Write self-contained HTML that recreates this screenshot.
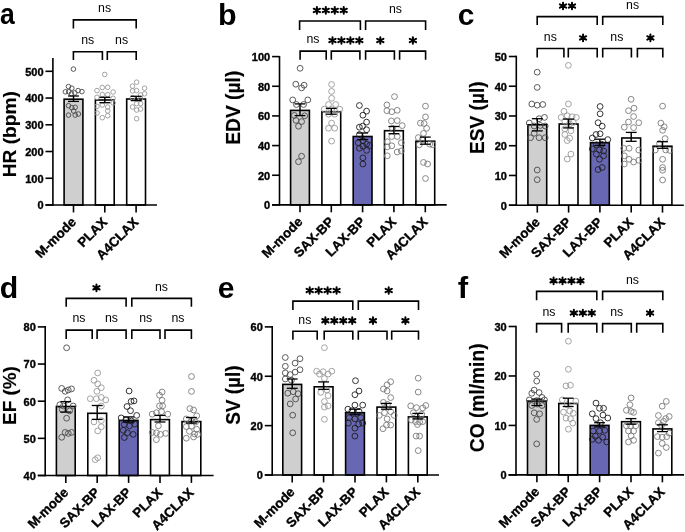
<!DOCTYPE html>
<html><head><meta charset="utf-8"><style>
html,body{margin:0;padding:0;background:#fff;}
svg{display:block;font-family:"Liberation Sans", sans-serif;will-change:transform;}
</style></head><body>
<svg width="685" height="532" viewBox="0 0 685 532">
<rect width="685" height="532" fill="#fff"/>
<text font-size="29.41" font-weight="bold" fill="#000" transform="translate(-0.05 24.41) scale(0.9036 1)">a</text>
<rect x="64.1" y="99.2" width="18.8" height="105.8" fill="#cfcfcf" stroke="#000" stroke-width="1.6"/>
<rect x="95.4" y="100" width="18.8" height="105" fill="#fff" stroke="#000" stroke-width="1.6"/>
<rect x="126.7" y="99" width="18.8" height="106" fill="#fff" stroke="#000" stroke-width="1.6"/>
<circle cx="73.4" cy="69.1" r="2.3" fill="none" stroke="#4a4a4a" stroke-width="0.9"/>
<circle cx="68.5" cy="86.6" r="2.3" fill="none" stroke="#4a4a4a" stroke-width="0.9"/>
<circle cx="71.8" cy="88.2" r="2.3" fill="none" stroke="#4a4a4a" stroke-width="0.9"/>
<circle cx="65.4" cy="91.8" r="2.3" fill="none" stroke="#4a4a4a" stroke-width="0.9"/>
<circle cx="68.7" cy="91.8" r="2.3" fill="none" stroke="#4a4a4a" stroke-width="0.9"/>
<circle cx="78.1" cy="90.6" r="2.3" fill="none" stroke="#4a4a4a" stroke-width="0.9"/>
<circle cx="81.9" cy="91.6" r="2.3" fill="none" stroke="#4a4a4a" stroke-width="0.9"/>
<circle cx="74.8" cy="92.9" r="2.3" fill="none" stroke="#4a4a4a" stroke-width="0.9"/>
<circle cx="71.4" cy="93.8" r="2.3" fill="none" stroke="#4a4a4a" stroke-width="0.9"/>
<circle cx="68.5" cy="105.7" r="2.3" fill="none" stroke="#4a4a4a" stroke-width="0.9"/>
<circle cx="71.8" cy="107.7" r="2.3" fill="none" stroke="#4a4a4a" stroke-width="0.9"/>
<circle cx="75.2" cy="107.3" r="2.3" fill="none" stroke="#4a4a4a" stroke-width="0.9"/>
<circle cx="73.6" cy="111" r="2.3" fill="none" stroke="#4a4a4a" stroke-width="0.9"/>
<circle cx="68.5" cy="115.1" r="2.3" fill="none" stroke="#4a4a4a" stroke-width="0.9"/>
<circle cx="75.2" cy="115.1" r="2.3" fill="none" stroke="#4a4a4a" stroke-width="0.9"/>
<circle cx="78.4" cy="114" r="2.3" fill="none" stroke="#4a4a4a" stroke-width="0.9"/>
<circle cx="104.7" cy="74.5" r="2.3" fill="none" stroke="#999" stroke-width="0.9"/>
<circle cx="102.3" cy="87.5" r="2.3" fill="none" stroke="#999" stroke-width="0.9"/>
<circle cx="107.7" cy="87.3" r="2.3" fill="none" stroke="#999" stroke-width="0.9"/>
<circle cx="97" cy="90.6" r="2.3" fill="none" stroke="#999" stroke-width="0.9"/>
<circle cx="113.1" cy="92" r="2.3" fill="none" stroke="#999" stroke-width="0.9"/>
<circle cx="102.3" cy="94.6" r="2.3" fill="none" stroke="#999" stroke-width="0.9"/>
<circle cx="107.7" cy="94.6" r="2.3" fill="none" stroke="#999" stroke-width="0.9"/>
<circle cx="97" cy="97.3" r="2.3" fill="none" stroke="#999" stroke-width="0.9"/>
<circle cx="113.1" cy="98.3" r="2.3" fill="none" stroke="#999" stroke-width="0.9"/>
<circle cx="102.3" cy="105" r="2.3" fill="none" stroke="#999" stroke-width="0.9"/>
<circle cx="107.7" cy="107" r="2.3" fill="none" stroke="#999" stroke-width="0.9"/>
<circle cx="97" cy="106.3" r="2.3" fill="none" stroke="#999" stroke-width="0.9"/>
<circle cx="113.1" cy="103" r="2.3" fill="none" stroke="#999" stroke-width="0.9"/>
<circle cx="107.7" cy="111" r="2.3" fill="none" stroke="#999" stroke-width="0.9"/>
<circle cx="97" cy="113" r="2.3" fill="none" stroke="#999" stroke-width="0.9"/>
<circle cx="107.7" cy="115.7" r="2.3" fill="none" stroke="#999" stroke-width="0.9"/>
<circle cx="102.3" cy="117.7" r="2.3" fill="none" stroke="#999" stroke-width="0.9"/>
<circle cx="136.6" cy="82.2" r="2.3" fill="none" stroke="#999" stroke-width="0.9"/>
<circle cx="132.5" cy="86.2" r="2.3" fill="none" stroke="#999" stroke-width="0.9"/>
<circle cx="144.6" cy="88.2" r="2.3" fill="none" stroke="#999" stroke-width="0.9"/>
<circle cx="132.5" cy="90.9" r="2.3" fill="none" stroke="#999" stroke-width="0.9"/>
<circle cx="136.6" cy="90.6" r="2.3" fill="none" stroke="#999" stroke-width="0.9"/>
<circle cx="144.6" cy="93.8" r="2.3" fill="none" stroke="#999" stroke-width="0.9"/>
<circle cx="140.6" cy="94.9" r="2.3" fill="none" stroke="#999" stroke-width="0.9"/>
<circle cx="132.5" cy="97.6" r="2.3" fill="none" stroke="#999" stroke-width="0.9"/>
<circle cx="140.6" cy="98.6" r="2.3" fill="none" stroke="#999" stroke-width="0.9"/>
<circle cx="136.6" cy="103.6" r="2.3" fill="none" stroke="#999" stroke-width="0.9"/>
<circle cx="140.6" cy="103.6" r="2.3" fill="none" stroke="#999" stroke-width="0.9"/>
<circle cx="132.5" cy="107" r="2.3" fill="none" stroke="#999" stroke-width="0.9"/>
<circle cx="136.6" cy="110" r="2.3" fill="none" stroke="#999" stroke-width="0.9"/>
<circle cx="140.6" cy="109" r="2.3" fill="none" stroke="#999" stroke-width="0.9"/>
<circle cx="136.6" cy="118.7" r="2.3" fill="none" stroke="#999" stroke-width="0.9"/>
<line x1="73.5" y1="96" x2="73.5" y2="101.4" stroke="#000" stroke-width="1.45"/>
<line x1="68.05" y1="96" x2="78.95" y2="96" stroke="#000" stroke-width="1.3"/>
<line x1="68.05" y1="101.4" x2="78.95" y2="101.4" stroke="#000" stroke-width="1.3"/>
<line x1="104.8" y1="97.3" x2="104.8" y2="102.7" stroke="#000" stroke-width="1.45"/>
<line x1="99.35" y1="97.3" x2="110.25" y2="97.3" stroke="#000" stroke-width="1.3"/>
<line x1="99.35" y1="102.7" x2="110.25" y2="102.7" stroke="#000" stroke-width="1.3"/>
<line x1="136.1" y1="96.3" x2="136.1" y2="100.6" stroke="#000" stroke-width="1.45"/>
<line x1="130.65" y1="96.3" x2="141.55" y2="96.3" stroke="#000" stroke-width="1.3"/>
<line x1="130.65" y1="100.6" x2="141.55" y2="100.6" stroke="#000" stroke-width="1.3"/>
<line x1="52.9" y1="58" x2="52.9" y2="205.8" stroke="#000" stroke-width="1.6"/>
<line x1="45.5" y1="205" x2="157" y2="205" stroke="#000" stroke-width="1.6"/>
<line x1="45.5" y1="205" x2="52.9" y2="205" stroke="#000" stroke-width="1.6"/>
<text font-size="10.3" font-weight="bold" stroke="#000" stroke-width="0.35" transform="translate(37.42 209.38) scale(1.0700 1)">0</text>
<line x1="45.5" y1="178.26" x2="52.9" y2="178.26" stroke="#000" stroke-width="1.6"/>
<text font-size="10.3" font-weight="bold" stroke="#000" stroke-width="0.35" transform="translate(25.16 182.64) scale(1.0700 1)">100</text>
<line x1="45.5" y1="151.52" x2="52.9" y2="151.52" stroke="#000" stroke-width="1.6"/>
<text font-size="10.3" font-weight="bold" stroke="#000" stroke-width="0.35" transform="translate(25.16 155.9) scale(1.0700 1)">200</text>
<line x1="45.5" y1="124.78" x2="52.9" y2="124.78" stroke="#000" stroke-width="1.6"/>
<text font-size="10.3" font-weight="bold" stroke="#000" stroke-width="0.35" transform="translate(25.16 129.16) scale(1.0700 1)">300</text>
<line x1="45.5" y1="98.04" x2="52.9" y2="98.04" stroke="#000" stroke-width="1.6"/>
<text font-size="10.3" font-weight="bold" stroke="#000" stroke-width="0.35" transform="translate(25.16 102.42) scale(1.0700 1)">400</text>
<line x1="45.5" y1="71.3" x2="52.9" y2="71.3" stroke="#000" stroke-width="1.6"/>
<text font-size="10.3" font-weight="bold" stroke="#000" stroke-width="0.35" transform="translate(25.16 75.68) scale(1.0700 1)">500</text>
<line x1="73.5" y1="205" x2="73.5" y2="212.4" stroke="#000" stroke-width="1.6"/>
<line x1="104.8" y1="205" x2="104.8" y2="212.4" stroke="#000" stroke-width="1.6"/>
<line x1="136.1" y1="205" x2="136.1" y2="212.4" stroke="#000" stroke-width="1.6"/>
<text font-size="13.3" font-weight="bold" stroke="#000" stroke-width="0.35" transform="translate(40.86 258.74) rotate(-45) scale(1.0000 1)">M-mode</text>
<text font-size="13.3" font-weight="bold" stroke="#000" stroke-width="0.35" transform="translate(82.91 247.99) rotate(-45) scale(1.0000 1)">PLAX</text>
<text font-size="13.3" font-weight="bold" stroke="#000" stroke-width="0.35" transform="translate(101.68 260.52) rotate(-45) scale(1.0000 1)">A4CLAX</text>
<text font-size="19.2" font-weight="bold" stroke="#000" stroke-width="0.15" transform="translate(16.2 177.29) rotate(-90) scale(0.9977 1)">HR (bpm)</text>
<path d="M73.4 28.4V19.9H136.2V28.4" fill="none" stroke="#000" stroke-width="1.6"/>
<text font-size="13" font-weight="normal" transform="translate(98.08 12.17) scale(0.9500 1)">ns</text>
<path d="M73.4 60V51.7H102.4V60" fill="none" stroke="#000" stroke-width="1.6"/>
<text font-size="13" font-weight="normal" transform="translate(81.18 43.97) scale(0.9500 1)">ns</text>
<path d="M107.3 60V51.7H136.2V60" fill="none" stroke="#000" stroke-width="1.6"/>
<text font-size="13" font-weight="normal" transform="translate(115.03 43.97) scale(0.9500 1)">ns</text>
<text font-size="28.71" font-weight="bold" fill="#000" transform="translate(217.92 24.61) scale(1.0623 1)">b</text>
<rect x="290.6" y="110.4" width="18.8" height="94.5" fill="#cfcfcf" stroke="#000" stroke-width="1.6"/>
<rect x="321.9" y="111.7" width="18.8" height="93.2" fill="#fff" stroke="#000" stroke-width="1.6"/>
<rect x="353.2" y="136.5" width="18.8" height="68.4" fill="#6867b4" stroke="#000" stroke-width="1.6"/>
<rect x="384.5" y="130.7" width="18.8" height="74.2" fill="#fff" stroke="#000" stroke-width="1.6"/>
<rect x="415.9" y="141.2" width="18.8" height="63.7" fill="#fff" stroke="#000" stroke-width="1.6"/>
<circle cx="300.1" cy="68.3" r="2.9" fill="none" stroke="#4a4a4a" stroke-width="0.9"/>
<circle cx="295.8" cy="84.2" r="2.9" fill="none" stroke="#4a4a4a" stroke-width="0.9"/>
<circle cx="304.1" cy="85.2" r="2.9" fill="none" stroke="#4a4a4a" stroke-width="0.9"/>
<circle cx="301.6" cy="87.9" r="2.9" fill="none" stroke="#4a4a4a" stroke-width="0.9"/>
<circle cx="292.7" cy="99.9" r="2.9" fill="none" stroke="#4a4a4a" stroke-width="0.9"/>
<circle cx="307.8" cy="99.9" r="2.9" fill="none" stroke="#4a4a4a" stroke-width="0.9"/>
<circle cx="296.4" cy="104.5" r="2.9" fill="none" stroke="#4a4a4a" stroke-width="0.9"/>
<circle cx="303.6" cy="104.5" r="2.9" fill="none" stroke="#4a4a4a" stroke-width="0.9"/>
<circle cx="294.3" cy="115.4" r="2.9" fill="none" stroke="#4a4a4a" stroke-width="0.9"/>
<circle cx="304.7" cy="115.8" r="2.9" fill="none" stroke="#4a4a4a" stroke-width="0.9"/>
<circle cx="296" cy="120.4" r="2.9" fill="none" stroke="#4a4a4a" stroke-width="0.9"/>
<circle cx="301.6" cy="121.6" r="2.9" fill="none" stroke="#4a4a4a" stroke-width="0.9"/>
<circle cx="298.5" cy="126.2" r="2.9" fill="none" stroke="#4a4a4a" stroke-width="0.9"/>
<circle cx="301.6" cy="156.2" r="2.9" fill="none" stroke="#4a4a4a" stroke-width="0.9"/>
<circle cx="298.5" cy="161.7" r="2.9" fill="none" stroke="#4a4a4a" stroke-width="0.9"/>
<circle cx="331.6" cy="84.4" r="2.9" fill="none" stroke="#999" stroke-width="0.9"/>
<circle cx="331.6" cy="91.4" r="2.9" fill="none" stroke="#999" stroke-width="0.9"/>
<circle cx="331.6" cy="98.3" r="2.9" fill="none" stroke="#999" stroke-width="0.9"/>
<circle cx="328.5" cy="104.5" r="2.9" fill="none" stroke="#999" stroke-width="0.9"/>
<circle cx="335.7" cy="104.5" r="2.9" fill="none" stroke="#999" stroke-width="0.9"/>
<circle cx="324.3" cy="109.2" r="2.9" fill="none" stroke="#999" stroke-width="0.9"/>
<circle cx="339.8" cy="109.2" r="2.9" fill="none" stroke="#999" stroke-width="0.9"/>
<circle cx="331.6" cy="109.6" r="2.9" fill="none" stroke="#999" stroke-width="0.9"/>
<circle cx="328.5" cy="114.2" r="2.9" fill="none" stroke="#999" stroke-width="0.9"/>
<circle cx="334.7" cy="114.2" r="2.9" fill="none" stroke="#999" stroke-width="0.9"/>
<circle cx="331.6" cy="123.1" r="2.9" fill="none" stroke="#999" stroke-width="0.9"/>
<circle cx="328.5" cy="128.2" r="2.9" fill="none" stroke="#999" stroke-width="0.9"/>
<circle cx="334.7" cy="128.2" r="2.9" fill="none" stroke="#999" stroke-width="0.9"/>
<circle cx="331.6" cy="141.1" r="2.9" fill="none" stroke="#999" stroke-width="0.9"/>
<circle cx="359.4" cy="105.5" r="2.9" fill="none" stroke="#1e1e1e" stroke-width="0.9"/>
<circle cx="366.6" cy="111.1" r="2.9" fill="none" stroke="#1e1e1e" stroke-width="0.9"/>
<circle cx="362.9" cy="115.2" r="2.9" fill="none" stroke="#1e1e1e" stroke-width="0.9"/>
<circle cx="366.6" cy="122.1" r="2.9" fill="none" stroke="#1e1e1e" stroke-width="0.9"/>
<circle cx="359.4" cy="127.2" r="2.9" fill="none" stroke="#1e1e1e" stroke-width="0.9"/>
<circle cx="362.5" cy="126.2" r="2.9" fill="none" stroke="#1e1e1e" stroke-width="0.9"/>
<circle cx="366.6" cy="129.7" r="2.9" fill="none" stroke="#1e1e1e" stroke-width="0.9"/>
<circle cx="359.4" cy="134.5" r="2.9" fill="none" stroke="#1e1e1e" stroke-width="0.9"/>
<circle cx="358.3" cy="142.7" r="2.9" fill="none" stroke="#1e1e1e" stroke-width="0.9"/>
<circle cx="362.9" cy="140.7" r="2.9" fill="none" stroke="#1e1e1e" stroke-width="0.9"/>
<circle cx="366.6" cy="144.2" r="2.9" fill="none" stroke="#1e1e1e" stroke-width="0.9"/>
<circle cx="359.4" cy="148.3" r="2.9" fill="none" stroke="#1e1e1e" stroke-width="0.9"/>
<circle cx="366.6" cy="150.4" r="2.9" fill="none" stroke="#1e1e1e" stroke-width="0.9"/>
<circle cx="362.9" cy="146.2" r="2.9" fill="none" stroke="#1e1e1e" stroke-width="0.9"/>
<circle cx="369.7" cy="145.4" r="2.9" fill="none" stroke="#1e1e1e" stroke-width="0.9"/>
<circle cx="362.9" cy="157.8" r="2.9" fill="none" stroke="#1e1e1e" stroke-width="0.9"/>
<circle cx="362.9" cy="164" r="2.9" fill="none" stroke="#1e1e1e" stroke-width="0.9"/>
<circle cx="394.5" cy="96.6" r="2.9" fill="none" stroke="#7a7a7a" stroke-width="0.9"/>
<circle cx="386.9" cy="104.9" r="2.9" fill="none" stroke="#7a7a7a" stroke-width="0.9"/>
<circle cx="386.9" cy="110.7" r="2.9" fill="none" stroke="#7a7a7a" stroke-width="0.9"/>
<circle cx="391.8" cy="111.7" r="2.9" fill="none" stroke="#7a7a7a" stroke-width="0.9"/>
<circle cx="397.2" cy="110.3" r="2.9" fill="none" stroke="#7a7a7a" stroke-width="0.9"/>
<circle cx="391.4" cy="121" r="2.9" fill="none" stroke="#7a7a7a" stroke-width="0.9"/>
<circle cx="397.2" cy="120.6" r="2.9" fill="none" stroke="#7a7a7a" stroke-width="0.9"/>
<circle cx="402.2" cy="125.6" r="2.9" fill="none" stroke="#7a7a7a" stroke-width="0.9"/>
<circle cx="392.5" cy="128.3" r="2.9" fill="none" stroke="#7a7a7a" stroke-width="0.9"/>
<circle cx="387.3" cy="141.7" r="2.9" fill="none" stroke="#7a7a7a" stroke-width="0.9"/>
<circle cx="391.8" cy="136.5" r="2.9" fill="none" stroke="#7a7a7a" stroke-width="0.9"/>
<circle cx="397.2" cy="136.5" r="2.9" fill="none" stroke="#7a7a7a" stroke-width="0.9"/>
<circle cx="401.3" cy="142.7" r="2.9" fill="none" stroke="#7a7a7a" stroke-width="0.9"/>
<circle cx="387.3" cy="146.9" r="2.9" fill="none" stroke="#7a7a7a" stroke-width="0.9"/>
<circle cx="391.8" cy="145.8" r="2.9" fill="none" stroke="#7a7a7a" stroke-width="0.9"/>
<circle cx="397.2" cy="152" r="2.9" fill="none" stroke="#7a7a7a" stroke-width="0.9"/>
<circle cx="401.3" cy="151" r="2.9" fill="none" stroke="#7a7a7a" stroke-width="0.9"/>
<circle cx="387.3" cy="155.8" r="2.9" fill="none" stroke="#7a7a7a" stroke-width="0.9"/>
<circle cx="425.5" cy="106.1" r="2.9" fill="none" stroke="#7a7a7a" stroke-width="0.9"/>
<circle cx="425.5" cy="116.9" r="2.9" fill="none" stroke="#7a7a7a" stroke-width="0.9"/>
<circle cx="420.4" cy="123.1" r="2.9" fill="none" stroke="#7a7a7a" stroke-width="0.9"/>
<circle cx="424.1" cy="123.5" r="2.9" fill="none" stroke="#7a7a7a" stroke-width="0.9"/>
<circle cx="426.6" cy="128.3" r="2.9" fill="none" stroke="#7a7a7a" stroke-width="0.9"/>
<circle cx="423.5" cy="133.4" r="2.9" fill="none" stroke="#7a7a7a" stroke-width="0.9"/>
<circle cx="418.3" cy="137.6" r="2.9" fill="none" stroke="#7a7a7a" stroke-width="0.9"/>
<circle cx="422.4" cy="139.6" r="2.9" fill="none" stroke="#7a7a7a" stroke-width="0.9"/>
<circle cx="429.7" cy="144.2" r="2.9" fill="none" stroke="#7a7a7a" stroke-width="0.9"/>
<circle cx="419.3" cy="144.8" r="2.9" fill="none" stroke="#7a7a7a" stroke-width="0.9"/>
<circle cx="432.8" cy="144.8" r="2.9" fill="none" stroke="#7a7a7a" stroke-width="0.9"/>
<circle cx="423.5" cy="162.4" r="2.9" fill="none" stroke="#7a7a7a" stroke-width="0.9"/>
<circle cx="427.6" cy="164" r="2.9" fill="none" stroke="#7a7a7a" stroke-width="0.9"/>
<circle cx="425.5" cy="178.5" r="2.9" fill="none" stroke="#7a7a7a" stroke-width="0.9"/>
<line x1="300" y1="103.9" x2="300" y2="115.6" stroke="#000" stroke-width="1.45"/>
<line x1="294.55" y1="103.9" x2="305.45" y2="103.9" stroke="#000" stroke-width="1.3"/>
<line x1="294.55" y1="115.6" x2="305.45" y2="115.6" stroke="#000" stroke-width="1.3"/>
<line x1="331.3" y1="108.4" x2="331.3" y2="114.2" stroke="#000" stroke-width="1.45"/>
<line x1="325.85" y1="108.4" x2="336.75" y2="108.4" stroke="#000" stroke-width="1.3"/>
<line x1="325.85" y1="114.2" x2="336.75" y2="114.2" stroke="#000" stroke-width="1.3"/>
<line x1="362.6" y1="133" x2="362.6" y2="139.6" stroke="#000" stroke-width="1.45"/>
<line x1="357.15" y1="133" x2="368.05" y2="133" stroke="#000" stroke-width="1.3"/>
<line x1="357.15" y1="139.6" x2="368.05" y2="139.6" stroke="#000" stroke-width="1.3"/>
<line x1="393.9" y1="126.5" x2="393.9" y2="133.7" stroke="#000" stroke-width="1.45"/>
<line x1="388.45" y1="126.5" x2="399.35" y2="126.5" stroke="#000" stroke-width="1.3"/>
<line x1="388.45" y1="133.7" x2="399.35" y2="133.7" stroke="#000" stroke-width="1.3"/>
<line x1="425.3" y1="137.1" x2="425.3" y2="144.2" stroke="#000" stroke-width="1.45"/>
<line x1="419.85" y1="137.1" x2="430.75" y2="137.1" stroke="#000" stroke-width="1.3"/>
<line x1="419.85" y1="144.2" x2="430.75" y2="144.2" stroke="#000" stroke-width="1.3"/>
<line x1="279.5" y1="56.1" x2="279.5" y2="205.7" stroke="#000" stroke-width="1.6"/>
<line x1="272.1" y1="204.9" x2="446.7" y2="204.9" stroke="#000" stroke-width="1.6"/>
<line x1="272.1" y1="204.9" x2="279.5" y2="204.9" stroke="#000" stroke-width="1.6"/>
<text font-size="10.3" font-weight="bold" stroke="#000" stroke-width="0.35" transform="translate(264.02 209.28) scale(1.0700 1)">0</text>
<line x1="272.1" y1="175.24" x2="279.5" y2="175.24" stroke="#000" stroke-width="1.6"/>
<text font-size="10.3" font-weight="bold" stroke="#000" stroke-width="0.35" transform="translate(257.91 179.62) scale(1.0700 1)">20</text>
<line x1="272.1" y1="145.58" x2="279.5" y2="145.58" stroke="#000" stroke-width="1.6"/>
<text font-size="10.3" font-weight="bold" stroke="#000" stroke-width="0.35" transform="translate(257.91 149.96) scale(1.0700 1)">40</text>
<line x1="272.1" y1="115.92" x2="279.5" y2="115.92" stroke="#000" stroke-width="1.6"/>
<text font-size="10.3" font-weight="bold" stroke="#000" stroke-width="0.35" transform="translate(257.91 120.3) scale(1.0700 1)">60</text>
<line x1="272.1" y1="86.26" x2="279.5" y2="86.26" stroke="#000" stroke-width="1.6"/>
<text font-size="10.3" font-weight="bold" stroke="#000" stroke-width="0.35" transform="translate(257.91 90.64) scale(1.0700 1)">80</text>
<line x1="272.1" y1="56.6" x2="279.5" y2="56.6" stroke="#000" stroke-width="1.6"/>
<text font-size="10.3" font-weight="bold" stroke="#000" stroke-width="0.35" transform="translate(251.76 60.98) scale(1.0700 1)">100</text>
<line x1="300" y1="204.9" x2="300" y2="212.3" stroke="#000" stroke-width="1.6"/>
<line x1="331.3" y1="204.9" x2="331.3" y2="212.3" stroke="#000" stroke-width="1.6"/>
<line x1="362.6" y1="204.9" x2="362.6" y2="212.3" stroke="#000" stroke-width="1.6"/>
<line x1="393.9" y1="204.9" x2="393.9" y2="212.3" stroke="#000" stroke-width="1.6"/>
<line x1="425.3" y1="204.9" x2="425.3" y2="212.3" stroke="#000" stroke-width="1.6"/>
<text font-size="13.3" font-weight="bold" stroke="#000" stroke-width="0.35" transform="translate(267.36 258.64) rotate(-45) scale(1.0000 1)">M-mode</text>
<text font-size="13.3" font-weight="bold" stroke="#000" stroke-width="0.35" transform="translate(299.18 258.12) rotate(-45) scale(1.0000 1)">SAX-BP</text>
<text font-size="13.3" font-weight="bold" stroke="#000" stroke-width="0.35" transform="translate(331.02 257.58) rotate(-45) scale(1.0000 1)">LAX-BP</text>
<text font-size="13.3" font-weight="bold" stroke="#000" stroke-width="0.35" transform="translate(372.01 247.89) rotate(-45) scale(1.0000 1)">PLAX</text>
<text font-size="13.3" font-weight="bold" stroke="#000" stroke-width="0.35" transform="translate(390.88 260.42) rotate(-45) scale(1.0000 1)">A4CLAX</text>
<text font-size="19.93" font-weight="bold" stroke="#000" stroke-width="0.15" transform="translate(239.7 144.8) rotate(-90) scale(0.9647 1)">EDV (µl)</text>
<path d="M299.6 30V21H360.4V30" fill="none" stroke="#000" stroke-width="1.6"/>
<path d="M316.88 7.05V13.75M313.73 8.7L320.02 12.1M313.73 12.1L320.02 8.7M325.82 7.05V13.75M322.68 8.7L328.97 12.1M322.68 12.1L328.97 8.7M334.77 7.05V13.75M331.62 8.7L337.92 12.1M331.62 12.1L337.92 8.7M343.73 7.05V13.75M340.58 8.7L346.88 12.1M340.58 12.1L346.88 8.7" stroke="#000" stroke-width="2.0" stroke-linecap="round" fill="none"/>
<g fill="#000"><circle cx="316.88" cy="10.4" r="1.5"/><circle cx="325.82" cy="10.4" r="1.5"/><circle cx="334.77" cy="10.4" r="1.5"/><circle cx="343.73" cy="10.4" r="1.5"/></g>
<path d="M365.6 30V21H425.6V30" fill="none" stroke="#000" stroke-width="1.6"/>
<text font-size="13" font-weight="normal" transform="translate(388.88 13.27) scale(0.9500 1)">ns</text>
<path d="M300.1 59.7V51.1H326.2V59.7" fill="none" stroke="#000" stroke-width="1.6"/>
<text font-size="13" font-weight="normal" transform="translate(306.43 43.37) scale(0.9500 1)">ns</text>
<path d="M331.3 59.7V51.1H359.9V59.7" fill="none" stroke="#000" stroke-width="1.6"/>
<path d="M332.48 37.15V43.85M329.33 38.8L335.62 42.2M329.33 42.2L335.62 38.8M341.43 37.15V43.85M338.28 38.8L344.57 42.2M338.28 42.2L344.57 38.8M350.38 37.15V43.85M347.23 38.8L353.52 42.2M347.23 42.2L353.52 38.8M359.33 37.15V43.85M356.18 38.8L362.48 42.2M356.18 42.2L362.48 38.8" stroke="#000" stroke-width="2.0" stroke-linecap="round" fill="none"/>
<g fill="#000"><circle cx="332.48" cy="40.5" r="1.5"/><circle cx="341.43" cy="40.5" r="1.5"/><circle cx="350.38" cy="40.5" r="1.5"/><circle cx="359.33" cy="40.5" r="1.5"/></g>
<path d="M365.6 59.7V51.1H394.4V59.7" fill="none" stroke="#000" stroke-width="1.6"/>
<path d="M380.3 37.15V43.85M377.15 38.8L383.45 42.2M377.15 42.2L383.45 38.8" stroke="#000" stroke-width="2.0" stroke-linecap="round" fill="none"/>
<g fill="#000"><circle cx="380.3" cy="40.5" r="1.5"/></g>
<path d="M399.6 59.7V51.1H425.6V59.7" fill="none" stroke="#000" stroke-width="1.6"/>
<path d="M412.9 37.15V43.85M409.75 38.8L416.05 42.2M409.75 42.2L416.05 38.8" stroke="#000" stroke-width="2.0" stroke-linecap="round" fill="none"/>
<g fill="#000"><circle cx="412.9" cy="40.5" r="1.5"/></g>
<text font-size="29.59" font-weight="bold" fill="#000" transform="translate(457.7 24.5) scale(1.0122 1)">c</text>
<rect x="527.9" y="124.8" width="18.8" height="80.4" fill="#cfcfcf" stroke="#000" stroke-width="1.6"/>
<rect x="559.2" y="124" width="18.8" height="81.2" fill="#fff" stroke="#000" stroke-width="1.6"/>
<rect x="590.5" y="142.7" width="18.8" height="62.5" fill="#6867b4" stroke="#000" stroke-width="1.6"/>
<rect x="621.8" y="138" width="18.8" height="67.2" fill="#fff" stroke="#000" stroke-width="1.6"/>
<rect x="653.1" y="146.2" width="18.8" height="59" fill="#fff" stroke="#000" stroke-width="1.6"/>
<circle cx="537.2" cy="72.2" r="2.9" fill="none" stroke="#4a4a4a" stroke-width="0.9"/>
<circle cx="537.2" cy="87.4" r="2.9" fill="none" stroke="#4a4a4a" stroke-width="0.9"/>
<circle cx="531.8" cy="104" r="2.9" fill="none" stroke="#4a4a4a" stroke-width="0.9"/>
<circle cx="537.2" cy="105.2" r="2.9" fill="none" stroke="#4a4a4a" stroke-width="0.9"/>
<circle cx="542.8" cy="104.5" r="2.9" fill="none" stroke="#4a4a4a" stroke-width="0.9"/>
<circle cx="544.5" cy="117.4" r="2.9" fill="none" stroke="#4a4a4a" stroke-width="0.9"/>
<circle cx="539.1" cy="118.7" r="2.9" fill="none" stroke="#4a4a4a" stroke-width="0.9"/>
<circle cx="529.3" cy="123" r="2.9" fill="none" stroke="#4a4a4a" stroke-width="0.9"/>
<circle cx="534.2" cy="126" r="2.9" fill="none" stroke="#4a4a4a" stroke-width="0.9"/>
<circle cx="540.3" cy="125.5" r="2.9" fill="none" stroke="#4a4a4a" stroke-width="0.9"/>
<circle cx="545.2" cy="126" r="2.9" fill="none" stroke="#4a4a4a" stroke-width="0.9"/>
<circle cx="530.6" cy="137.7" r="2.9" fill="none" stroke="#4a4a4a" stroke-width="0.9"/>
<circle cx="539.1" cy="137.7" r="2.9" fill="none" stroke="#4a4a4a" stroke-width="0.9"/>
<circle cx="545.2" cy="137.7" r="2.9" fill="none" stroke="#4a4a4a" stroke-width="0.9"/>
<circle cx="534.2" cy="133.3" r="2.9" fill="none" stroke="#4a4a4a" stroke-width="0.9"/>
<circle cx="537.2" cy="170" r="2.9" fill="none" stroke="#4a4a4a" stroke-width="0.9"/>
<circle cx="537.2" cy="179.7" r="2.9" fill="none" stroke="#4a4a4a" stroke-width="0.9"/>
<circle cx="568.4" cy="65.4" r="2.9" fill="none" stroke="#999" stroke-width="0.9"/>
<circle cx="568.4" cy="104" r="2.9" fill="none" stroke="#999" stroke-width="0.9"/>
<circle cx="564" cy="111.3" r="2.9" fill="none" stroke="#999" stroke-width="0.9"/>
<circle cx="561.1" cy="117.4" r="2.9" fill="none" stroke="#999" stroke-width="0.9"/>
<circle cx="567.2" cy="115.7" r="2.9" fill="none" stroke="#999" stroke-width="0.9"/>
<circle cx="572.1" cy="116.7" r="2.9" fill="none" stroke="#999" stroke-width="0.9"/>
<circle cx="576.3" cy="117.4" r="2.9" fill="none" stroke="#999" stroke-width="0.9"/>
<circle cx="564.8" cy="121.1" r="2.9" fill="none" stroke="#999" stroke-width="0.9"/>
<circle cx="569.7" cy="124" r="2.9" fill="none" stroke="#999" stroke-width="0.9"/>
<circle cx="573.3" cy="122.3" r="2.9" fill="none" stroke="#999" stroke-width="0.9"/>
<circle cx="564.8" cy="128.9" r="2.9" fill="none" stroke="#999" stroke-width="0.9"/>
<circle cx="570.9" cy="130.9" r="2.9" fill="none" stroke="#999" stroke-width="0.9"/>
<circle cx="564.8" cy="134.5" r="2.9" fill="none" stroke="#999" stroke-width="0.9"/>
<circle cx="569.7" cy="138.2" r="2.9" fill="none" stroke="#999" stroke-width="0.9"/>
<circle cx="567.2" cy="140.6" r="2.9" fill="none" stroke="#999" stroke-width="0.9"/>
<circle cx="570.9" cy="154.1" r="2.9" fill="none" stroke="#999" stroke-width="0.9"/>
<circle cx="567.2" cy="159" r="2.9" fill="none" stroke="#999" stroke-width="0.9"/>
<circle cx="600.1" cy="106.5" r="2.9" fill="none" stroke="#1e1e1e" stroke-width="0.9"/>
<circle cx="600.1" cy="113.8" r="2.9" fill="none" stroke="#1e1e1e" stroke-width="0.9"/>
<circle cx="598.1" cy="122.7" r="2.9" fill="none" stroke="#1e1e1e" stroke-width="0.9"/>
<circle cx="602.2" cy="126.2" r="2.9" fill="none" stroke="#1e1e1e" stroke-width="0.9"/>
<circle cx="596" cy="134.5" r="2.9" fill="none" stroke="#1e1e1e" stroke-width="0.9"/>
<circle cx="600.1" cy="133.8" r="2.9" fill="none" stroke="#1e1e1e" stroke-width="0.9"/>
<circle cx="592.3" cy="138" r="2.9" fill="none" stroke="#1e1e1e" stroke-width="0.9"/>
<circle cx="607.8" cy="139.6" r="2.9" fill="none" stroke="#1e1e1e" stroke-width="0.9"/>
<circle cx="596.4" cy="144.8" r="2.9" fill="none" stroke="#1e1e1e" stroke-width="0.9"/>
<circle cx="601.6" cy="144.2" r="2.9" fill="none" stroke="#1e1e1e" stroke-width="0.9"/>
<circle cx="592.3" cy="148.9" r="2.9" fill="none" stroke="#1e1e1e" stroke-width="0.9"/>
<circle cx="599.5" cy="150" r="2.9" fill="none" stroke="#1e1e1e" stroke-width="0.9"/>
<circle cx="603.6" cy="151" r="2.9" fill="none" stroke="#1e1e1e" stroke-width="0.9"/>
<circle cx="596.4" cy="154.1" r="2.9" fill="none" stroke="#1e1e1e" stroke-width="0.9"/>
<circle cx="603.6" cy="155.8" r="2.9" fill="none" stroke="#1e1e1e" stroke-width="0.9"/>
<circle cx="599.5" cy="159.3" r="2.9" fill="none" stroke="#1e1e1e" stroke-width="0.9"/>
<circle cx="602.2" cy="167.5" r="2.9" fill="none" stroke="#1e1e1e" stroke-width="0.9"/>
<circle cx="598.1" cy="169.6" r="2.9" fill="none" stroke="#1e1e1e" stroke-width="0.9"/>
<circle cx="631.1" cy="99.3" r="2.9" fill="none" stroke="#7a7a7a" stroke-width="0.9"/>
<circle cx="628.5" cy="110.7" r="2.9" fill="none" stroke="#7a7a7a" stroke-width="0.9"/>
<circle cx="634" cy="108.2" r="2.9" fill="none" stroke="#7a7a7a" stroke-width="0.9"/>
<circle cx="633.6" cy="116.5" r="2.9" fill="none" stroke="#7a7a7a" stroke-width="0.9"/>
<circle cx="628.5" cy="122" r="2.9" fill="none" stroke="#7a7a7a" stroke-width="0.9"/>
<circle cx="638.8" cy="122.7" r="2.9" fill="none" stroke="#7a7a7a" stroke-width="0.9"/>
<circle cx="624.3" cy="127.2" r="2.9" fill="none" stroke="#7a7a7a" stroke-width="0.9"/>
<circle cx="633.6" cy="127.6" r="2.9" fill="none" stroke="#7a7a7a" stroke-width="0.9"/>
<circle cx="623.7" cy="148.3" r="2.9" fill="none" stroke="#7a7a7a" stroke-width="0.9"/>
<circle cx="629.1" cy="148.3" r="2.9" fill="none" stroke="#7a7a7a" stroke-width="0.9"/>
<circle cx="638.8" cy="150" r="2.9" fill="none" stroke="#7a7a7a" stroke-width="0.9"/>
<circle cx="624.3" cy="155.8" r="2.9" fill="none" stroke="#7a7a7a" stroke-width="0.9"/>
<circle cx="629.1" cy="159.3" r="2.9" fill="none" stroke="#7a7a7a" stroke-width="0.9"/>
<circle cx="633.6" cy="162" r="2.9" fill="none" stroke="#7a7a7a" stroke-width="0.9"/>
<circle cx="638.8" cy="160.3" r="2.9" fill="none" stroke="#7a7a7a" stroke-width="0.9"/>
<circle cx="624.3" cy="164" r="2.9" fill="none" stroke="#7a7a7a" stroke-width="0.9"/>
<circle cx="662.6" cy="106.1" r="2.9" fill="none" stroke="#7a7a7a" stroke-width="0.9"/>
<circle cx="660.9" cy="123.1" r="2.9" fill="none" stroke="#7a7a7a" stroke-width="0.9"/>
<circle cx="664.2" cy="126.8" r="2.9" fill="none" stroke="#7a7a7a" stroke-width="0.9"/>
<circle cx="662.6" cy="130.3" r="2.9" fill="none" stroke="#7a7a7a" stroke-width="0.9"/>
<circle cx="665.1" cy="138.6" r="2.9" fill="none" stroke="#7a7a7a" stroke-width="0.9"/>
<circle cx="659.5" cy="143.4" r="2.9" fill="none" stroke="#7a7a7a" stroke-width="0.9"/>
<circle cx="655.3" cy="150" r="2.9" fill="none" stroke="#7a7a7a" stroke-width="0.9"/>
<circle cx="665.7" cy="150" r="2.9" fill="none" stroke="#7a7a7a" stroke-width="0.9"/>
<circle cx="669.8" cy="150.4" r="2.9" fill="none" stroke="#7a7a7a" stroke-width="0.9"/>
<circle cx="662.6" cy="159.3" r="2.9" fill="none" stroke="#7a7a7a" stroke-width="0.9"/>
<circle cx="662.6" cy="167.5" r="2.9" fill="none" stroke="#7a7a7a" stroke-width="0.9"/>
<circle cx="662.6" cy="170.2" r="2.9" fill="none" stroke="#7a7a7a" stroke-width="0.9"/>
<circle cx="662.6" cy="180" r="2.9" fill="none" stroke="#7a7a7a" stroke-width="0.9"/>
<line x1="537.3" y1="118.7" x2="537.3" y2="130.9" stroke="#000" stroke-width="1.45"/>
<line x1="531.85" y1="118.7" x2="542.75" y2="118.7" stroke="#000" stroke-width="1.3"/>
<line x1="531.85" y1="130.9" x2="542.75" y2="130.9" stroke="#000" stroke-width="1.3"/>
<line x1="568.6" y1="119.1" x2="568.6" y2="127.9" stroke="#000" stroke-width="1.45"/>
<line x1="563.15" y1="119.1" x2="574.05" y2="119.1" stroke="#000" stroke-width="1.3"/>
<line x1="563.15" y1="127.9" x2="574.05" y2="127.9" stroke="#000" stroke-width="1.3"/>
<line x1="599.9" y1="139.2" x2="599.9" y2="145.4" stroke="#000" stroke-width="1.45"/>
<line x1="594.45" y1="139.2" x2="605.35" y2="139.2" stroke="#000" stroke-width="1.3"/>
<line x1="594.45" y1="145.4" x2="605.35" y2="145.4" stroke="#000" stroke-width="1.3"/>
<line x1="631.2" y1="132.4" x2="631.2" y2="141.3" stroke="#000" stroke-width="1.45"/>
<line x1="625.75" y1="132.4" x2="636.65" y2="132.4" stroke="#000" stroke-width="1.3"/>
<line x1="625.75" y1="141.3" x2="636.65" y2="141.3" stroke="#000" stroke-width="1.3"/>
<line x1="662.5" y1="141.7" x2="662.5" y2="148.3" stroke="#000" stroke-width="1.45"/>
<line x1="657.05" y1="141.7" x2="667.95" y2="141.7" stroke="#000" stroke-width="1.3"/>
<line x1="657.05" y1="148.3" x2="667.95" y2="148.3" stroke="#000" stroke-width="1.3"/>
<line x1="516.3" y1="55.7" x2="516.3" y2="206" stroke="#000" stroke-width="1.6"/>
<line x1="508.9" y1="205.2" x2="683.8" y2="205.2" stroke="#000" stroke-width="1.6"/>
<line x1="508.9" y1="205.2" x2="516.3" y2="205.2" stroke="#000" stroke-width="1.6"/>
<text font-size="10.3" font-weight="bold" stroke="#000" stroke-width="0.35" transform="translate(500.82 209.58) scale(1.0700 1)">0</text>
<line x1="508.9" y1="175.46" x2="516.3" y2="175.46" stroke="#000" stroke-width="1.6"/>
<text font-size="10.3" font-weight="bold" stroke="#000" stroke-width="0.35" transform="translate(494.71 179.84) scale(1.0700 1)">10</text>
<line x1="508.9" y1="145.72" x2="516.3" y2="145.72" stroke="#000" stroke-width="1.6"/>
<text font-size="10.3" font-weight="bold" stroke="#000" stroke-width="0.35" transform="translate(494.71 150.1) scale(1.0700 1)">20</text>
<line x1="508.9" y1="115.98" x2="516.3" y2="115.98" stroke="#000" stroke-width="1.6"/>
<text font-size="10.3" font-weight="bold" stroke="#000" stroke-width="0.35" transform="translate(494.71 120.36) scale(1.0700 1)">30</text>
<line x1="508.9" y1="86.24" x2="516.3" y2="86.24" stroke="#000" stroke-width="1.6"/>
<text font-size="10.3" font-weight="bold" stroke="#000" stroke-width="0.35" transform="translate(494.71 90.62) scale(1.0700 1)">40</text>
<line x1="508.9" y1="56.5" x2="516.3" y2="56.5" stroke="#000" stroke-width="1.6"/>
<text font-size="10.3" font-weight="bold" stroke="#000" stroke-width="0.35" transform="translate(494.71 60.88) scale(1.0700 1)">50</text>
<line x1="537.3" y1="205.2" x2="537.3" y2="212.6" stroke="#000" stroke-width="1.6"/>
<line x1="568.6" y1="205.2" x2="568.6" y2="212.6" stroke="#000" stroke-width="1.6"/>
<line x1="599.9" y1="205.2" x2="599.9" y2="212.6" stroke="#000" stroke-width="1.6"/>
<line x1="631.2" y1="205.2" x2="631.2" y2="212.6" stroke="#000" stroke-width="1.6"/>
<line x1="662.5" y1="205.2" x2="662.5" y2="212.6" stroke="#000" stroke-width="1.6"/>
<text font-size="13.3" font-weight="bold" stroke="#000" stroke-width="0.35" transform="translate(504.66 258.94) rotate(-45) scale(1.0000 1)">M-mode</text>
<text font-size="13.3" font-weight="bold" stroke="#000" stroke-width="0.35" transform="translate(536.48 258.42) rotate(-45) scale(1.0000 1)">SAX-BP</text>
<text font-size="13.3" font-weight="bold" stroke="#000" stroke-width="0.35" transform="translate(568.32 257.88) rotate(-45) scale(1.0000 1)">LAX-BP</text>
<text font-size="13.3" font-weight="bold" stroke="#000" stroke-width="0.35" transform="translate(609.31 248.19) rotate(-45) scale(1.0000 1)">PLAX</text>
<text font-size="13.3" font-weight="bold" stroke="#000" stroke-width="0.35" transform="translate(628.08 260.72) rotate(-45) scale(1.0000 1)">A4CLAX</text>
<text font-size="19.35" font-weight="bold" stroke="#000" stroke-width="0.15" transform="translate(483.5 153.99) rotate(-90) scale(0.9875 1)">ESV (µl)</text>
<path d="M537.2 25.1V16.6H597.2V25.1" fill="none" stroke="#000" stroke-width="1.6"/>
<path d="M563.02 2.65V9.35M559.88 4.3L566.17 7.7M559.88 7.7L566.17 4.3M571.98 2.65V9.35M568.83 4.3L575.12 7.7M568.83 7.7L575.12 4.3" stroke="#000" stroke-width="2.0" stroke-linecap="round" fill="none"/>
<g fill="#000"><circle cx="563.02" cy="6" r="1.5"/><circle cx="571.98" cy="6" r="1.5"/></g>
<path d="M602.7 25.1V16.6H662.8V25.1" fill="none" stroke="#000" stroke-width="1.6"/>
<text font-size="13" font-weight="normal" transform="translate(626.03 8.87) scale(0.9500 1)">ns</text>
<path d="M537.2 57.5V48.5H563.9V57.5" fill="none" stroke="#000" stroke-width="1.6"/>
<text font-size="13" font-weight="normal" transform="translate(543.83 40.77) scale(0.9500 1)">ns</text>
<path d="M568.3 57.5V48.5H597.2V57.5" fill="none" stroke="#000" stroke-width="1.6"/>
<path d="M583.05 34.55V41.25M579.9 36.2L586.2 39.6M579.9 39.6L586.2 36.2" stroke="#000" stroke-width="2.0" stroke-linecap="round" fill="none"/>
<g fill="#000"><circle cx="583.05" cy="37.9" r="1.5"/></g>
<path d="M602.7 57.5V48.5H631.4V57.5" fill="none" stroke="#000" stroke-width="1.6"/>
<text font-size="13" font-weight="normal" transform="translate(610.33 40.77) scale(0.9500 1)">ns</text>
<path d="M637.4 57.5V48.5H662.8V57.5" fill="none" stroke="#000" stroke-width="1.6"/>
<path d="M650.4 34.55V41.25M647.25 36.2L653.55 39.6M647.25 39.6L653.55 36.2" stroke="#000" stroke-width="2.0" stroke-linecap="round" fill="none"/>
<g fill="#000"><circle cx="650.4" cy="37.9" r="1.5"/></g>
<text font-size="29.25" font-weight="bold" fill="#000" transform="translate(-0.31 298.11) scale(1.0357 1)">d</text>
<rect x="56.4" y="406.5" width="18.8" height="69" fill="#cfcfcf" stroke="#000" stroke-width="1.6"/>
<rect x="87.8" y="413.3" width="18.8" height="62.2" fill="#fff" stroke="#000" stroke-width="1.6"/>
<rect x="119.2" y="420.4" width="18.8" height="55.1" fill="#6867b4" stroke="#000" stroke-width="1.6"/>
<rect x="150.6" y="419.6" width="18.8" height="55.9" fill="#fff" stroke="#000" stroke-width="1.6"/>
<rect x="182" y="421.6" width="18.8" height="53.9" fill="#fff" stroke="#000" stroke-width="1.6"/>
<circle cx="66.6" cy="347.8" r="2.9" fill="none" stroke="#4a4a4a" stroke-width="0.9"/>
<circle cx="61.7" cy="388.4" r="2.9" fill="none" stroke="#4a4a4a" stroke-width="0.9"/>
<circle cx="71.5" cy="388.9" r="2.9" fill="none" stroke="#4a4a4a" stroke-width="0.9"/>
<circle cx="65.2" cy="391.3" r="2.9" fill="none" stroke="#4a4a4a" stroke-width="0.9"/>
<circle cx="68.3" cy="390" r="2.9" fill="none" stroke="#4a4a4a" stroke-width="0.9"/>
<circle cx="67.6" cy="399.9" r="2.9" fill="none" stroke="#4a4a4a" stroke-width="0.9"/>
<circle cx="59.8" cy="404.8" r="2.9" fill="none" stroke="#4a4a4a" stroke-width="0.9"/>
<circle cx="63.4" cy="406" r="2.9" fill="none" stroke="#4a4a4a" stroke-width="0.9"/>
<circle cx="73.2" cy="406" r="2.9" fill="none" stroke="#4a4a4a" stroke-width="0.9"/>
<circle cx="62.2" cy="409.6" r="2.9" fill="none" stroke="#4a4a4a" stroke-width="0.9"/>
<circle cx="69.6" cy="410.9" r="2.9" fill="none" stroke="#4a4a4a" stroke-width="0.9"/>
<circle cx="66.6" cy="418.2" r="2.9" fill="none" stroke="#4a4a4a" stroke-width="0.9"/>
<circle cx="65.2" cy="432.4" r="2.9" fill="none" stroke="#4a4a4a" stroke-width="0.9"/>
<circle cx="71.5" cy="432.4" r="2.9" fill="none" stroke="#4a4a4a" stroke-width="0.9"/>
<circle cx="68.3" cy="433.4" r="2.9" fill="none" stroke="#4a4a4a" stroke-width="0.9"/>
<circle cx="61.7" cy="437.3" r="2.9" fill="none" stroke="#4a4a4a" stroke-width="0.9"/>
<circle cx="97.7" cy="373" r="2.9" fill="none" stroke="#999" stroke-width="0.9"/>
<circle cx="94" cy="380.3" r="2.9" fill="none" stroke="#999" stroke-width="0.9"/>
<circle cx="97.7" cy="384" r="2.9" fill="none" stroke="#999" stroke-width="0.9"/>
<circle cx="101.3" cy="387.7" r="2.9" fill="none" stroke="#999" stroke-width="0.9"/>
<circle cx="96.9" cy="391.3" r="2.9" fill="none" stroke="#999" stroke-width="0.9"/>
<circle cx="90.3" cy="398.7" r="2.9" fill="none" stroke="#999" stroke-width="0.9"/>
<circle cx="96.4" cy="398.7" r="2.9" fill="none" stroke="#999" stroke-width="0.9"/>
<circle cx="101.3" cy="397.4" r="2.9" fill="none" stroke="#999" stroke-width="0.9"/>
<circle cx="105.7" cy="399.9" r="2.9" fill="none" stroke="#999" stroke-width="0.9"/>
<circle cx="101.3" cy="406" r="2.9" fill="none" stroke="#999" stroke-width="0.9"/>
<circle cx="94" cy="421.9" r="2.9" fill="none" stroke="#999" stroke-width="0.9"/>
<circle cx="101.3" cy="420.6" r="2.9" fill="none" stroke="#999" stroke-width="0.9"/>
<circle cx="101.3" cy="426.8" r="2.9" fill="none" stroke="#999" stroke-width="0.9"/>
<circle cx="97.7" cy="430.9" r="2.9" fill="none" stroke="#999" stroke-width="0.9"/>
<circle cx="97.7" cy="457.8" r="2.9" fill="none" stroke="#999" stroke-width="0.9"/>
<circle cx="95.2" cy="459.7" r="2.9" fill="none" stroke="#999" stroke-width="0.9"/>
<circle cx="129.1" cy="391" r="2.9" fill="none" stroke="#1e1e1e" stroke-width="0.9"/>
<circle cx="131.1" cy="401.4" r="2.9" fill="none" stroke="#1e1e1e" stroke-width="0.9"/>
<circle cx="134" cy="400.9" r="2.9" fill="none" stroke="#1e1e1e" stroke-width="0.9"/>
<circle cx="127" cy="406.5" r="2.9" fill="none" stroke="#1e1e1e" stroke-width="0.9"/>
<circle cx="130.5" cy="410.7" r="2.9" fill="none" stroke="#1e1e1e" stroke-width="0.9"/>
<circle cx="121.2" cy="417.9" r="2.9" fill="none" stroke="#1e1e1e" stroke-width="0.9"/>
<circle cx="136.7" cy="415.4" r="2.9" fill="none" stroke="#1e1e1e" stroke-width="0.9"/>
<circle cx="125.8" cy="420" r="2.9" fill="none" stroke="#1e1e1e" stroke-width="0.9"/>
<circle cx="131.5" cy="421" r="2.9" fill="none" stroke="#1e1e1e" stroke-width="0.9"/>
<circle cx="124.3" cy="424.5" r="2.9" fill="none" stroke="#1e1e1e" stroke-width="0.9"/>
<circle cx="129.5" cy="425.8" r="2.9" fill="none" stroke="#1e1e1e" stroke-width="0.9"/>
<circle cx="134.6" cy="424.1" r="2.9" fill="none" stroke="#1e1e1e" stroke-width="0.9"/>
<circle cx="123.3" cy="430.3" r="2.9" fill="none" stroke="#1e1e1e" stroke-width="0.9"/>
<circle cx="127.4" cy="432.8" r="2.9" fill="none" stroke="#1e1e1e" stroke-width="0.9"/>
<circle cx="133.2" cy="434.4" r="2.9" fill="none" stroke="#1e1e1e" stroke-width="0.9"/>
<circle cx="124.3" cy="437.5" r="2.9" fill="none" stroke="#1e1e1e" stroke-width="0.9"/>
<circle cx="162.1" cy="392" r="2.9" fill="none" stroke="#7a7a7a" stroke-width="0.9"/>
<circle cx="159.5" cy="395.2" r="2.9" fill="none" stroke="#7a7a7a" stroke-width="0.9"/>
<circle cx="162.1" cy="400.3" r="2.9" fill="none" stroke="#7a7a7a" stroke-width="0.9"/>
<circle cx="159.5" cy="405.9" r="2.9" fill="none" stroke="#7a7a7a" stroke-width="0.9"/>
<circle cx="162.6" cy="405.9" r="2.9" fill="none" stroke="#7a7a7a" stroke-width="0.9"/>
<circle cx="152.2" cy="414.2" r="2.9" fill="none" stroke="#7a7a7a" stroke-width="0.9"/>
<circle cx="156.4" cy="412.7" r="2.9" fill="none" stroke="#7a7a7a" stroke-width="0.9"/>
<circle cx="161.5" cy="411.7" r="2.9" fill="none" stroke="#7a7a7a" stroke-width="0.9"/>
<circle cx="167.7" cy="414.2" r="2.9" fill="none" stroke="#7a7a7a" stroke-width="0.9"/>
<circle cx="158.4" cy="425.8" r="2.9" fill="none" stroke="#7a7a7a" stroke-width="0.9"/>
<circle cx="152.2" cy="432.4" r="2.9" fill="none" stroke="#7a7a7a" stroke-width="0.9"/>
<circle cx="156.4" cy="432.8" r="2.9" fill="none" stroke="#7a7a7a" stroke-width="0.9"/>
<circle cx="160.5" cy="434.4" r="2.9" fill="none" stroke="#7a7a7a" stroke-width="0.9"/>
<circle cx="165.7" cy="433.4" r="2.9" fill="none" stroke="#7a7a7a" stroke-width="0.9"/>
<circle cx="156.4" cy="439.6" r="2.9" fill="none" stroke="#7a7a7a" stroke-width="0.9"/>
<circle cx="191.5" cy="376.5" r="2.9" fill="none" stroke="#7a7a7a" stroke-width="0.9"/>
<circle cx="191.5" cy="391.4" r="2.9" fill="none" stroke="#7a7a7a" stroke-width="0.9"/>
<circle cx="189.9" cy="408.6" r="2.9" fill="none" stroke="#7a7a7a" stroke-width="0.9"/>
<circle cx="193.6" cy="410" r="2.9" fill="none" stroke="#7a7a7a" stroke-width="0.9"/>
<circle cx="196.7" cy="415.8" r="2.9" fill="none" stroke="#7a7a7a" stroke-width="0.9"/>
<circle cx="186.3" cy="418.9" r="2.9" fill="none" stroke="#7a7a7a" stroke-width="0.9"/>
<circle cx="191.5" cy="421" r="2.9" fill="none" stroke="#7a7a7a" stroke-width="0.9"/>
<circle cx="195.6" cy="422" r="2.9" fill="none" stroke="#7a7a7a" stroke-width="0.9"/>
<circle cx="186.3" cy="426.6" r="2.9" fill="none" stroke="#7a7a7a" stroke-width="0.9"/>
<circle cx="191.5" cy="426.2" r="2.9" fill="none" stroke="#7a7a7a" stroke-width="0.9"/>
<circle cx="196.7" cy="429.3" r="2.9" fill="none" stroke="#7a7a7a" stroke-width="0.9"/>
<circle cx="189.4" cy="431.3" r="2.9" fill="none" stroke="#7a7a7a" stroke-width="0.9"/>
<circle cx="194.6" cy="434" r="2.9" fill="none" stroke="#7a7a7a" stroke-width="0.9"/>
<circle cx="186.3" cy="438.2" r="2.9" fill="none" stroke="#7a7a7a" stroke-width="0.9"/>
<circle cx="197.7" cy="434.4" r="2.9" fill="none" stroke="#7a7a7a" stroke-width="0.9"/>
<circle cx="193.6" cy="437" r="2.9" fill="none" stroke="#7a7a7a" stroke-width="0.9"/>
<line x1="65.8" y1="401.6" x2="65.8" y2="412.1" stroke="#000" stroke-width="1.45"/>
<line x1="60.35" y1="401.6" x2="71.25" y2="401.6" stroke="#000" stroke-width="1.3"/>
<line x1="60.35" y1="412.1" x2="71.25" y2="412.1" stroke="#000" stroke-width="1.3"/>
<line x1="97.2" y1="405.5" x2="97.2" y2="419.4" stroke="#000" stroke-width="1.45"/>
<line x1="91.75" y1="405.5" x2="102.65" y2="405.5" stroke="#000" stroke-width="1.3"/>
<line x1="91.75" y1="419.4" x2="102.65" y2="419.4" stroke="#000" stroke-width="1.3"/>
<line x1="128.6" y1="416.9" x2="128.6" y2="422" stroke="#000" stroke-width="1.45"/>
<line x1="123.15" y1="416.9" x2="134.05" y2="416.9" stroke="#000" stroke-width="1.3"/>
<line x1="123.15" y1="422" x2="134.05" y2="422" stroke="#000" stroke-width="1.3"/>
<line x1="160" y1="415.4" x2="160" y2="422" stroke="#000" stroke-width="1.45"/>
<line x1="154.55" y1="415.4" x2="165.45" y2="415.4" stroke="#000" stroke-width="1.3"/>
<line x1="154.55" y1="422" x2="165.45" y2="422" stroke="#000" stroke-width="1.3"/>
<line x1="191.4" y1="417.5" x2="191.4" y2="423.1" stroke="#000" stroke-width="1.45"/>
<line x1="185.95" y1="417.5" x2="196.85" y2="417.5" stroke="#000" stroke-width="1.3"/>
<line x1="185.95" y1="423.1" x2="196.85" y2="423.1" stroke="#000" stroke-width="1.3"/>
<line x1="45.2" y1="326.1" x2="45.2" y2="476.3" stroke="#000" stroke-width="1.6"/>
<line x1="37.8" y1="475.5" x2="213.6" y2="475.5" stroke="#000" stroke-width="1.6"/>
<line x1="37.8" y1="475.5" x2="45.2" y2="475.5" stroke="#000" stroke-width="1.6"/>
<text font-size="10.3" font-weight="bold" stroke="#000" stroke-width="0.35" transform="translate(23.61 479.88) scale(1.0700 1)">40</text>
<line x1="37.8" y1="438.35" x2="45.2" y2="438.35" stroke="#000" stroke-width="1.6"/>
<text font-size="10.3" font-weight="bold" stroke="#000" stroke-width="0.35" transform="translate(23.61 442.73) scale(1.0700 1)">50</text>
<line x1="37.8" y1="401.2" x2="45.2" y2="401.2" stroke="#000" stroke-width="1.6"/>
<text font-size="10.3" font-weight="bold" stroke="#000" stroke-width="0.35" transform="translate(23.61 405.58) scale(1.0700 1)">60</text>
<line x1="37.8" y1="364.05" x2="45.2" y2="364.05" stroke="#000" stroke-width="1.6"/>
<text font-size="10.3" font-weight="bold" stroke="#000" stroke-width="0.35" transform="translate(23.61 368.43) scale(1.0700 1)">70</text>
<line x1="37.8" y1="326.9" x2="45.2" y2="326.9" stroke="#000" stroke-width="1.6"/>
<text font-size="10.3" font-weight="bold" stroke="#000" stroke-width="0.35" transform="translate(23.61 331.28) scale(1.0700 1)">80</text>
<line x1="65.8" y1="475.5" x2="65.8" y2="482.9" stroke="#000" stroke-width="1.6"/>
<line x1="97.2" y1="475.5" x2="97.2" y2="482.9" stroke="#000" stroke-width="1.6"/>
<line x1="128.6" y1="475.5" x2="128.6" y2="482.9" stroke="#000" stroke-width="1.6"/>
<line x1="160" y1="475.5" x2="160" y2="482.9" stroke="#000" stroke-width="1.6"/>
<line x1="191.4" y1="475.5" x2="191.4" y2="482.9" stroke="#000" stroke-width="1.6"/>
<text font-size="13.3" font-weight="bold" stroke="#000" stroke-width="0.35" transform="translate(33.16 529.24) rotate(-45) scale(1.0000 1)">M-mode</text>
<text font-size="13.3" font-weight="bold" stroke="#000" stroke-width="0.35" transform="translate(65.08 528.72) rotate(-45) scale(1.0000 1)">SAX-BP</text>
<text font-size="13.3" font-weight="bold" stroke="#000" stroke-width="0.35" transform="translate(97.02 528.18) rotate(-45) scale(1.0000 1)">LAX-BP</text>
<text font-size="13.3" font-weight="bold" stroke="#000" stroke-width="0.35" transform="translate(138.11 518.49) rotate(-45) scale(1.0000 1)">PLAX</text>
<text font-size="13.3" font-weight="bold" stroke="#000" stroke-width="0.35" transform="translate(156.98 531.02) rotate(-45) scale(1.0000 1)">A4CLAX</text>
<text font-size="19.2" font-weight="bold" stroke="#000" stroke-width="0.15" transform="translate(16.2 424.98) rotate(-90) scale(0.9851 1)">EF (%)</text>
<path d="M66.2 306.8V298.4H126.1V306.8" fill="none" stroke="#000" stroke-width="1.6"/>
<path d="M96.45 284.45V291.15M93.3 286.1L99.6 289.5M93.3 289.5L99.6 286.1" stroke="#000" stroke-width="2.0" stroke-linecap="round" fill="none"/>
<g fill="#000"><circle cx="96.45" cy="287.8" r="1.5"/></g>
<path d="M131.8 306.8V298.4H191.4V306.8" fill="none" stroke="#000" stroke-width="1.6"/>
<text font-size="13" font-weight="normal" transform="translate(154.88 290.67) scale(0.9500 1)">ns</text>
<path d="M66.2 339V330.1H92.2V339" fill="none" stroke="#000" stroke-width="1.6"/>
<text font-size="13" font-weight="normal" transform="translate(72.48 322.37) scale(0.9500 1)">ns</text>
<path d="M97.1 339V330.1H126.1V339" fill="none" stroke="#000" stroke-width="1.6"/>
<text font-size="13" font-weight="normal" transform="translate(104.88 322.37) scale(0.9500 1)">ns</text>
<path d="M131.8 339V330.1H160V339" fill="none" stroke="#000" stroke-width="1.6"/>
<text font-size="13" font-weight="normal" transform="translate(139.18 322.37) scale(0.9500 1)">ns</text>
<path d="M165 339V330.1H191.4V339" fill="none" stroke="#000" stroke-width="1.6"/>
<text font-size="13" font-weight="normal" transform="translate(171.48 322.37) scale(0.9500 1)">ns</text>
<text font-size="30.32" font-weight="bold" fill="#000" transform="translate(217.8 298.3) scale(0.9912 1)">e</text>
<rect x="282.8" y="384.4" width="18.8" height="90.6" fill="#cfcfcf" stroke="#000" stroke-width="1.6"/>
<rect x="314.2" y="386.8" width="18.8" height="88.2" fill="#fff" stroke="#000" stroke-width="1.6"/>
<rect x="345.6" y="412.7" width="18.8" height="62.3" fill="#6867b4" stroke="#000" stroke-width="1.6"/>
<rect x="377" y="407.1" width="18.8" height="67.9" fill="#fff" stroke="#000" stroke-width="1.6"/>
<rect x="408.4" y="416.9" width="18.8" height="58.1" fill="#fff" stroke="#000" stroke-width="1.6"/>
<circle cx="285.3" cy="357.5" r="2.9" fill="none" stroke="#4a4a4a" stroke-width="0.9"/>
<circle cx="300" cy="358.7" r="2.9" fill="none" stroke="#4a4a4a" stroke-width="0.9"/>
<circle cx="285.3" cy="366.3" r="2.9" fill="none" stroke="#4a4a4a" stroke-width="0.9"/>
<circle cx="295.1" cy="363.1" r="2.9" fill="none" stroke="#4a4a4a" stroke-width="0.9"/>
<circle cx="300" cy="369.7" r="2.9" fill="none" stroke="#4a4a4a" stroke-width="0.9"/>
<circle cx="285.3" cy="372.9" r="2.9" fill="none" stroke="#4a4a4a" stroke-width="0.9"/>
<circle cx="290.2" cy="374.6" r="2.9" fill="none" stroke="#4a4a4a" stroke-width="0.9"/>
<circle cx="295.1" cy="372.1" r="2.9" fill="none" stroke="#4a4a4a" stroke-width="0.9"/>
<circle cx="285.3" cy="379" r="2.9" fill="none" stroke="#4a4a4a" stroke-width="0.9"/>
<circle cx="291.4" cy="380.2" r="2.9" fill="none" stroke="#4a4a4a" stroke-width="0.9"/>
<circle cx="287.8" cy="393.2" r="2.9" fill="none" stroke="#4a4a4a" stroke-width="0.9"/>
<circle cx="293.2" cy="391.7" r="2.9" fill="none" stroke="#4a4a4a" stroke-width="0.9"/>
<circle cx="298" cy="393.7" r="2.9" fill="none" stroke="#4a4a4a" stroke-width="0.9"/>
<circle cx="295.6" cy="399" r="2.9" fill="none" stroke="#4a4a4a" stroke-width="0.9"/>
<circle cx="290.2" cy="403.9" r="2.9" fill="none" stroke="#4a4a4a" stroke-width="0.9"/>
<circle cx="292.7" cy="415.2" r="2.9" fill="none" stroke="#4a4a4a" stroke-width="0.9"/>
<circle cx="292.7" cy="432.8" r="2.9" fill="none" stroke="#4a4a4a" stroke-width="0.9"/>
<circle cx="324.4" cy="347.7" r="2.9" fill="none" stroke="#999" stroke-width="0.9"/>
<circle cx="316.6" cy="371.2" r="2.9" fill="none" stroke="#999" stroke-width="0.9"/>
<circle cx="323.2" cy="371.7" r="2.9" fill="none" stroke="#999" stroke-width="0.9"/>
<circle cx="328.1" cy="374.1" r="2.9" fill="none" stroke="#999" stroke-width="0.9"/>
<circle cx="331.8" cy="371.2" r="2.9" fill="none" stroke="#999" stroke-width="0.9"/>
<circle cx="319.5" cy="374.1" r="2.9" fill="none" stroke="#999" stroke-width="0.9"/>
<circle cx="324.4" cy="378.5" r="2.9" fill="none" stroke="#999" stroke-width="0.9"/>
<circle cx="320.8" cy="392.4" r="2.9" fill="none" stroke="#999" stroke-width="0.9"/>
<circle cx="326.9" cy="390" r="2.9" fill="none" stroke="#999" stroke-width="0.9"/>
<circle cx="328.1" cy="395.6" r="2.9" fill="none" stroke="#999" stroke-width="0.9"/>
<circle cx="324.4" cy="401.5" r="2.9" fill="none" stroke="#999" stroke-width="0.9"/>
<circle cx="324.4" cy="407.1" r="2.9" fill="none" stroke="#999" stroke-width="0.9"/>
<circle cx="328.1" cy="405.9" r="2.9" fill="none" stroke="#999" stroke-width="0.9"/>
<circle cx="324.4" cy="419.3" r="2.9" fill="none" stroke="#999" stroke-width="0.9"/>
<circle cx="355.5" cy="380.7" r="2.9" fill="none" stroke="#1e1e1e" stroke-width="0.9"/>
<circle cx="359" cy="391" r="2.9" fill="none" stroke="#1e1e1e" stroke-width="0.9"/>
<circle cx="354.9" cy="394.7" r="2.9" fill="none" stroke="#1e1e1e" stroke-width="0.9"/>
<circle cx="354.9" cy="405.1" r="2.9" fill="none" stroke="#1e1e1e" stroke-width="0.9"/>
<circle cx="362.7" cy="405.1" r="2.9" fill="none" stroke="#1e1e1e" stroke-width="0.9"/>
<circle cx="347.9" cy="409.2" r="2.9" fill="none" stroke="#1e1e1e" stroke-width="0.9"/>
<circle cx="352" cy="410.7" r="2.9" fill="none" stroke="#1e1e1e" stroke-width="0.9"/>
<circle cx="359" cy="411.3" r="2.9" fill="none" stroke="#1e1e1e" stroke-width="0.9"/>
<circle cx="349.3" cy="417.5" r="2.9" fill="none" stroke="#1e1e1e" stroke-width="0.9"/>
<circle cx="354.9" cy="418.9" r="2.9" fill="none" stroke="#1e1e1e" stroke-width="0.9"/>
<circle cx="360.7" cy="417.5" r="2.9" fill="none" stroke="#1e1e1e" stroke-width="0.9"/>
<circle cx="348.3" cy="423.1" r="2.9" fill="none" stroke="#1e1e1e" stroke-width="0.9"/>
<circle cx="358.6" cy="424.1" r="2.9" fill="none" stroke="#1e1e1e" stroke-width="0.9"/>
<circle cx="362.7" cy="423.1" r="2.9" fill="none" stroke="#1e1e1e" stroke-width="0.9"/>
<circle cx="354.9" cy="428.2" r="2.9" fill="none" stroke="#1e1e1e" stroke-width="0.9"/>
<circle cx="354.9" cy="436.1" r="2.9" fill="none" stroke="#1e1e1e" stroke-width="0.9"/>
<circle cx="390.7" cy="381.7" r="2.9" fill="none" stroke="#7a7a7a" stroke-width="0.9"/>
<circle cx="387.1" cy="384.8" r="2.9" fill="none" stroke="#7a7a7a" stroke-width="0.9"/>
<circle cx="383.4" cy="389" r="2.9" fill="none" stroke="#7a7a7a" stroke-width="0.9"/>
<circle cx="387.1" cy="391" r="2.9" fill="none" stroke="#7a7a7a" stroke-width="0.9"/>
<circle cx="390.7" cy="397.6" r="2.9" fill="none" stroke="#7a7a7a" stroke-width="0.9"/>
<circle cx="383.4" cy="402.4" r="2.9" fill="none" stroke="#7a7a7a" stroke-width="0.9"/>
<circle cx="387.5" cy="404.4" r="2.9" fill="none" stroke="#7a7a7a" stroke-width="0.9"/>
<circle cx="379.3" cy="415.4" r="2.9" fill="none" stroke="#7a7a7a" stroke-width="0.9"/>
<circle cx="384.5" cy="412.7" r="2.9" fill="none" stroke="#7a7a7a" stroke-width="0.9"/>
<circle cx="390.7" cy="411.7" r="2.9" fill="none" stroke="#7a7a7a" stroke-width="0.9"/>
<circle cx="394.2" cy="415.4" r="2.9" fill="none" stroke="#7a7a7a" stroke-width="0.9"/>
<circle cx="387.1" cy="418.9" r="2.9" fill="none" stroke="#7a7a7a" stroke-width="0.9"/>
<circle cx="390.7" cy="425.1" r="2.9" fill="none" stroke="#7a7a7a" stroke-width="0.9"/>
<circle cx="386.5" cy="425.1" r="2.9" fill="none" stroke="#7a7a7a" stroke-width="0.9"/>
<circle cx="383" cy="428.7" r="2.9" fill="none" stroke="#7a7a7a" stroke-width="0.9"/>
<circle cx="418.2" cy="378.2" r="2.9" fill="none" stroke="#7a7a7a" stroke-width="0.9"/>
<circle cx="418.2" cy="392.1" r="2.9" fill="none" stroke="#7a7a7a" stroke-width="0.9"/>
<circle cx="410.7" cy="405.9" r="2.9" fill="none" stroke="#7a7a7a" stroke-width="0.9"/>
<circle cx="416.5" cy="407.6" r="2.9" fill="none" stroke="#7a7a7a" stroke-width="0.9"/>
<circle cx="422.7" cy="408" r="2.9" fill="none" stroke="#7a7a7a" stroke-width="0.9"/>
<circle cx="425.8" cy="405.5" r="2.9" fill="none" stroke="#7a7a7a" stroke-width="0.9"/>
<circle cx="413.4" cy="412.7" r="2.9" fill="none" stroke="#7a7a7a" stroke-width="0.9"/>
<circle cx="421.7" cy="414.2" r="2.9" fill="none" stroke="#7a7a7a" stroke-width="0.9"/>
<circle cx="411.3" cy="420" r="2.9" fill="none" stroke="#7a7a7a" stroke-width="0.9"/>
<circle cx="415.5" cy="421.6" r="2.9" fill="none" stroke="#7a7a7a" stroke-width="0.9"/>
<circle cx="419.6" cy="422" r="2.9" fill="none" stroke="#7a7a7a" stroke-width="0.9"/>
<circle cx="422.7" cy="421.6" r="2.9" fill="none" stroke="#7a7a7a" stroke-width="0.9"/>
<circle cx="417.5" cy="424.5" r="2.9" fill="none" stroke="#7a7a7a" stroke-width="0.9"/>
<circle cx="416.1" cy="436.1" r="2.9" fill="none" stroke="#7a7a7a" stroke-width="0.9"/>
<circle cx="419.6" cy="436.1" r="2.9" fill="none" stroke="#7a7a7a" stroke-width="0.9"/>
<circle cx="418.2" cy="450.6" r="2.9" fill="none" stroke="#7a7a7a" stroke-width="0.9"/>
<line x1="292.2" y1="379" x2="292.2" y2="388.3" stroke="#000" stroke-width="1.45"/>
<line x1="286.75" y1="379" x2="297.65" y2="379" stroke="#000" stroke-width="1.3"/>
<line x1="286.75" y1="388.3" x2="297.65" y2="388.3" stroke="#000" stroke-width="1.3"/>
<line x1="323.6" y1="381.9" x2="323.6" y2="389.3" stroke="#000" stroke-width="1.45"/>
<line x1="318.15" y1="381.9" x2="329.05" y2="381.9" stroke="#000" stroke-width="1.3"/>
<line x1="318.15" y1="389.3" x2="329.05" y2="389.3" stroke="#000" stroke-width="1.3"/>
<line x1="355" y1="409.2" x2="355" y2="414.8" stroke="#000" stroke-width="1.45"/>
<line x1="349.55" y1="409.2" x2="360.45" y2="409.2" stroke="#000" stroke-width="1.3"/>
<line x1="349.55" y1="414.8" x2="360.45" y2="414.8" stroke="#000" stroke-width="1.3"/>
<line x1="386.4" y1="403.4" x2="386.4" y2="409.2" stroke="#000" stroke-width="1.45"/>
<line x1="380.95" y1="403.4" x2="391.85" y2="403.4" stroke="#000" stroke-width="1.3"/>
<line x1="380.95" y1="409.2" x2="391.85" y2="409.2" stroke="#000" stroke-width="1.3"/>
<line x1="417.8" y1="413.4" x2="417.8" y2="418.9" stroke="#000" stroke-width="1.45"/>
<line x1="412.35" y1="413.4" x2="423.25" y2="413.4" stroke="#000" stroke-width="1.3"/>
<line x1="412.35" y1="418.9" x2="423.25" y2="418.9" stroke="#000" stroke-width="1.3"/>
<line x1="272.2" y1="326.1" x2="272.2" y2="475.8" stroke="#000" stroke-width="1.6"/>
<line x1="264.8" y1="475" x2="439" y2="475" stroke="#000" stroke-width="1.6"/>
<line x1="264.8" y1="475" x2="272.2" y2="475" stroke="#000" stroke-width="1.6"/>
<text font-size="10.3" font-weight="bold" stroke="#000" stroke-width="0.35" transform="translate(256.72 479.38) scale(1.0700 1)">0</text>
<line x1="264.8" y1="425.63" x2="272.2" y2="425.63" stroke="#000" stroke-width="1.6"/>
<text font-size="10.3" font-weight="bold" stroke="#000" stroke-width="0.35" transform="translate(250.61 430.02) scale(1.0700 1)">20</text>
<line x1="264.8" y1="376.27" x2="272.2" y2="376.27" stroke="#000" stroke-width="1.6"/>
<text font-size="10.3" font-weight="bold" stroke="#000" stroke-width="0.35" transform="translate(250.61 380.65) scale(1.0700 1)">40</text>
<line x1="264.8" y1="326.9" x2="272.2" y2="326.9" stroke="#000" stroke-width="1.6"/>
<text font-size="10.3" font-weight="bold" stroke="#000" stroke-width="0.35" transform="translate(250.61 331.28) scale(1.0700 1)">60</text>
<line x1="292.2" y1="475" x2="292.2" y2="482.4" stroke="#000" stroke-width="1.6"/>
<line x1="323.6" y1="475" x2="323.6" y2="482.4" stroke="#000" stroke-width="1.6"/>
<line x1="355" y1="475" x2="355" y2="482.4" stroke="#000" stroke-width="1.6"/>
<line x1="386.4" y1="475" x2="386.4" y2="482.4" stroke="#000" stroke-width="1.6"/>
<line x1="417.8" y1="475" x2="417.8" y2="482.4" stroke="#000" stroke-width="1.6"/>
<text font-size="13.3" font-weight="bold" stroke="#000" stroke-width="0.35" transform="translate(259.56 528.74) rotate(-45) scale(1.0000 1)">M-mode</text>
<text font-size="13.3" font-weight="bold" stroke="#000" stroke-width="0.35" transform="translate(291.48 528.22) rotate(-45) scale(1.0000 1)">SAX-BP</text>
<text font-size="13.3" font-weight="bold" stroke="#000" stroke-width="0.35" transform="translate(323.42 527.68) rotate(-45) scale(1.0000 1)">LAX-BP</text>
<text font-size="13.3" font-weight="bold" stroke="#000" stroke-width="0.35" transform="translate(364.51 517.99) rotate(-45) scale(1.0000 1)">PLAX</text>
<text font-size="13.3" font-weight="bold" stroke="#000" stroke-width="0.35" transform="translate(383.38 530.52) rotate(-45) scale(1.0000 1)">A4CLAX</text>
<text font-size="19.93" font-weight="bold" stroke="#000" stroke-width="0.15" transform="translate(239.7 424.87) rotate(-90) scale(0.9535 1)">SV (µl)</text>
<path d="M292.9 309.9V301.1H352.8V309.9" fill="none" stroke="#000" stroke-width="1.6"/>
<path d="M309.73 287.15V293.85M306.58 288.8L312.88 292.2M306.58 292.2L312.88 288.8M318.68 287.15V293.85M315.53 288.8L321.82 292.2M315.53 292.2L321.82 288.8M327.62 287.15V293.85M324.48 288.8L330.77 292.2M324.48 292.2L330.77 288.8M336.58 287.15V293.85M333.43 288.8L339.73 292.2M333.43 292.2L339.73 288.8" stroke="#000" stroke-width="2.0" stroke-linecap="round" fill="none"/>
<g fill="#000"><circle cx="309.73" cy="290.5" r="1.5"/><circle cx="318.68" cy="290.5" r="1.5"/><circle cx="327.62" cy="290.5" r="1.5"/><circle cx="336.58" cy="290.5" r="1.5"/></g>
<path d="M358.3 309.9V301.1H418.5V309.9" fill="none" stroke="#000" stroke-width="1.6"/>
<path d="M388.7 287.15V293.85M385.55 288.8L391.85 292.2M385.55 292.2L391.85 288.8" stroke="#000" stroke-width="2.0" stroke-linecap="round" fill="none"/>
<g fill="#000"><circle cx="388.7" cy="290.5" r="1.5"/></g>
<path d="M292.9 339.7V331.3H317.2V339.7" fill="none" stroke="#000" stroke-width="1.6"/>
<text font-size="13" font-weight="normal" transform="translate(298.33 323.57) scale(0.9500 1)">ns</text>
<path d="M324.2 339.7V331.3H352.8V339.7" fill="none" stroke="#000" stroke-width="1.6"/>
<path d="M325.38 317.35V324.05M322.23 319L328.52 322.4M322.23 322.4L328.52 319M334.32 317.35V324.05M331.18 319L337.47 322.4M331.18 322.4L337.47 319M343.27 317.35V324.05M340.12 319L346.42 322.4M340.12 322.4L346.42 319M352.23 317.35V324.05M349.08 319L355.38 322.4M349.08 322.4L355.38 319" stroke="#000" stroke-width="2.0" stroke-linecap="round" fill="none"/>
<g fill="#000"><circle cx="325.38" cy="320.7" r="1.5"/><circle cx="334.32" cy="320.7" r="1.5"/><circle cx="343.27" cy="320.7" r="1.5"/><circle cx="352.23" cy="320.7" r="1.5"/></g>
<path d="M358.3 339.7V331.3H387V339.7" fill="none" stroke="#000" stroke-width="1.6"/>
<path d="M372.95 317.35V324.05M369.8 319L376.1 322.4M369.8 322.4L376.1 319" stroke="#000" stroke-width="2.0" stroke-linecap="round" fill="none"/>
<g fill="#000"><circle cx="372.95" cy="320.7" r="1.5"/></g>
<path d="M391.7 339.7V331.3H418.5V339.7" fill="none" stroke="#000" stroke-width="1.6"/>
<path d="M405.4 317.35V324.05M402.25 319L408.55 322.4M402.25 322.4L408.55 319" stroke="#000" stroke-width="2.0" stroke-linecap="round" fill="none"/>
<g fill="#000"><circle cx="405.4" cy="320.7" r="1.5"/></g>
<text font-size="28.83" font-weight="bold" fill="#000" transform="translate(457.85 297.8) scale(1.0816 1)">f</text>
<rect x="527.5" y="401.1" width="18.8" height="73.8" fill="#cfcfcf" stroke="#000" stroke-width="1.6"/>
<rect x="558.8" y="403.5" width="18.8" height="71.4" fill="#fff" stroke="#000" stroke-width="1.6"/>
<rect x="590.2" y="425.4" width="18.8" height="49.5" fill="#6867b4" stroke="#000" stroke-width="1.6"/>
<rect x="621.6" y="421.7" width="18.8" height="53.2" fill="#fff" stroke="#000" stroke-width="1.6"/>
<rect x="653" y="428.9" width="18.8" height="46" fill="#fff" stroke="#000" stroke-width="1.6"/>
<circle cx="536.7" cy="374.2" r="2.9" fill="none" stroke="#4a4a4a" stroke-width="0.9"/>
<circle cx="536.7" cy="381.1" r="2.9" fill="none" stroke="#4a4a4a" stroke-width="0.9"/>
<circle cx="534.2" cy="390.1" r="2.9" fill="none" stroke="#4a4a4a" stroke-width="0.9"/>
<circle cx="539.1" cy="392.5" r="2.9" fill="none" stroke="#4a4a4a" stroke-width="0.9"/>
<circle cx="531.8" cy="393.3" r="2.9" fill="none" stroke="#4a4a4a" stroke-width="0.9"/>
<circle cx="542" cy="397.4" r="2.9" fill="none" stroke="#4a4a4a" stroke-width="0.9"/>
<circle cx="529.3" cy="399.9" r="2.9" fill="none" stroke="#4a4a4a" stroke-width="0.9"/>
<circle cx="536.7" cy="400.6" r="2.9" fill="none" stroke="#4a4a4a" stroke-width="0.9"/>
<circle cx="544.5" cy="399.9" r="2.9" fill="none" stroke="#4a4a4a" stroke-width="0.9"/>
<circle cx="531.8" cy="405.5" r="2.9" fill="none" stroke="#4a4a4a" stroke-width="0.9"/>
<circle cx="537.2" cy="404" r="2.9" fill="none" stroke="#4a4a4a" stroke-width="0.9"/>
<circle cx="542" cy="405.5" r="2.9" fill="none" stroke="#4a4a4a" stroke-width="0.9"/>
<circle cx="534.2" cy="412.8" r="2.9" fill="none" stroke="#4a4a4a" stroke-width="0.9"/>
<circle cx="539.6" cy="413.8" r="2.9" fill="none" stroke="#4a4a4a" stroke-width="0.9"/>
<circle cx="536.7" cy="419.4" r="2.9" fill="none" stroke="#4a4a4a" stroke-width="0.9"/>
<circle cx="536.7" cy="443.9" r="2.9" fill="none" stroke="#4a4a4a" stroke-width="0.9"/>
<circle cx="568.4" cy="341.2" r="2.9" fill="none" stroke="#999" stroke-width="0.9"/>
<circle cx="568.4" cy="369.3" r="2.9" fill="none" stroke="#999" stroke-width="0.9"/>
<circle cx="566" cy="385.9" r="2.9" fill="none" stroke="#999" stroke-width="0.9"/>
<circle cx="570.4" cy="385.2" r="2.9" fill="none" stroke="#999" stroke-width="0.9"/>
<circle cx="562.3" cy="399.9" r="2.9" fill="none" stroke="#999" stroke-width="0.9"/>
<circle cx="575.8" cy="401.1" r="2.9" fill="none" stroke="#999" stroke-width="0.9"/>
<circle cx="567.2" cy="404.8" r="2.9" fill="none" stroke="#999" stroke-width="0.9"/>
<circle cx="563.5" cy="412.1" r="2.9" fill="none" stroke="#999" stroke-width="0.9"/>
<circle cx="569.7" cy="410.9" r="2.9" fill="none" stroke="#999" stroke-width="0.9"/>
<circle cx="573.3" cy="413.3" r="2.9" fill="none" stroke="#999" stroke-width="0.9"/>
<circle cx="566" cy="418.2" r="2.9" fill="none" stroke="#999" stroke-width="0.9"/>
<circle cx="570.4" cy="418.7" r="2.9" fill="none" stroke="#999" stroke-width="0.9"/>
<circle cx="572.8" cy="423.1" r="2.9" fill="none" stroke="#999" stroke-width="0.9"/>
<circle cx="568.4" cy="429.2" r="2.9" fill="none" stroke="#999" stroke-width="0.9"/>
<circle cx="596" cy="403.1" r="2.9" fill="none" stroke="#1e1e1e" stroke-width="0.9"/>
<circle cx="599.5" cy="408.3" r="2.9" fill="none" stroke="#1e1e1e" stroke-width="0.9"/>
<circle cx="603.6" cy="408.3" r="2.9" fill="none" stroke="#1e1e1e" stroke-width="0.9"/>
<circle cx="592.3" cy="413.8" r="2.9" fill="none" stroke="#1e1e1e" stroke-width="0.9"/>
<circle cx="603" cy="415.1" r="2.9" fill="none" stroke="#1e1e1e" stroke-width="0.9"/>
<circle cx="596" cy="418.6" r="2.9" fill="none" stroke="#1e1e1e" stroke-width="0.9"/>
<circle cx="607.8" cy="418" r="2.9" fill="none" stroke="#1e1e1e" stroke-width="0.9"/>
<circle cx="600.5" cy="422.7" r="2.9" fill="none" stroke="#1e1e1e" stroke-width="0.9"/>
<circle cx="593.3" cy="431" r="2.9" fill="none" stroke="#1e1e1e" stroke-width="0.9"/>
<circle cx="599.5" cy="431" r="2.9" fill="none" stroke="#1e1e1e" stroke-width="0.9"/>
<circle cx="604.7" cy="430.4" r="2.9" fill="none" stroke="#1e1e1e" stroke-width="0.9"/>
<circle cx="595.4" cy="436.2" r="2.9" fill="none" stroke="#1e1e1e" stroke-width="0.9"/>
<circle cx="602.6" cy="437.2" r="2.9" fill="none" stroke="#1e1e1e" stroke-width="0.9"/>
<circle cx="592.3" cy="439.3" r="2.9" fill="none" stroke="#1e1e1e" stroke-width="0.9"/>
<circle cx="598.5" cy="440.3" r="2.9" fill="none" stroke="#1e1e1e" stroke-width="0.9"/>
<circle cx="606.7" cy="442" r="2.9" fill="none" stroke="#1e1e1e" stroke-width="0.9"/>
<circle cx="631.1" cy="397.9" r="2.9" fill="none" stroke="#7a7a7a" stroke-width="0.9"/>
<circle cx="629.9" cy="404.7" r="2.9" fill="none" stroke="#7a7a7a" stroke-width="0.9"/>
<circle cx="626.4" cy="410.3" r="2.9" fill="none" stroke="#7a7a7a" stroke-width="0.9"/>
<circle cx="631.1" cy="411.4" r="2.9" fill="none" stroke="#7a7a7a" stroke-width="0.9"/>
<circle cx="633.6" cy="412.4" r="2.9" fill="none" stroke="#7a7a7a" stroke-width="0.9"/>
<circle cx="626.4" cy="425.8" r="2.9" fill="none" stroke="#7a7a7a" stroke-width="0.9"/>
<circle cx="630.5" cy="425.8" r="2.9" fill="none" stroke="#7a7a7a" stroke-width="0.9"/>
<circle cx="635.7" cy="425.8" r="2.9" fill="none" stroke="#7a7a7a" stroke-width="0.9"/>
<circle cx="633.6" cy="431" r="2.9" fill="none" stroke="#7a7a7a" stroke-width="0.9"/>
<circle cx="628.5" cy="431" r="2.9" fill="none" stroke="#7a7a7a" stroke-width="0.9"/>
<circle cx="631.1" cy="435.8" r="2.9" fill="none" stroke="#7a7a7a" stroke-width="0.9"/>
<circle cx="628.5" cy="442" r="2.9" fill="none" stroke="#7a7a7a" stroke-width="0.9"/>
<circle cx="633.6" cy="440.3" r="2.9" fill="none" stroke="#7a7a7a" stroke-width="0.9"/>
<circle cx="666.3" cy="401.4" r="2.9" fill="none" stroke="#7a7a7a" stroke-width="0.9"/>
<circle cx="662.2" cy="406.2" r="2.9" fill="none" stroke="#7a7a7a" stroke-width="0.9"/>
<circle cx="658.4" cy="415.5" r="2.9" fill="none" stroke="#7a7a7a" stroke-width="0.9"/>
<circle cx="665.7" cy="418.6" r="2.9" fill="none" stroke="#7a7a7a" stroke-width="0.9"/>
<circle cx="669.2" cy="416.5" r="2.9" fill="none" stroke="#7a7a7a" stroke-width="0.9"/>
<circle cx="658.4" cy="422.7" r="2.9" fill="none" stroke="#7a7a7a" stroke-width="0.9"/>
<circle cx="663.6" cy="421.3" r="2.9" fill="none" stroke="#7a7a7a" stroke-width="0.9"/>
<circle cx="661.5" cy="425.4" r="2.9" fill="none" stroke="#7a7a7a" stroke-width="0.9"/>
<circle cx="657.4" cy="436.6" r="2.9" fill="none" stroke="#7a7a7a" stroke-width="0.9"/>
<circle cx="662.2" cy="437.2" r="2.9" fill="none" stroke="#7a7a7a" stroke-width="0.9"/>
<circle cx="666.7" cy="436.6" r="2.9" fill="none" stroke="#7a7a7a" stroke-width="0.9"/>
<circle cx="669.2" cy="433.1" r="2.9" fill="none" stroke="#7a7a7a" stroke-width="0.9"/>
<circle cx="662.2" cy="443.4" r="2.9" fill="none" stroke="#7a7a7a" stroke-width="0.9"/>
<circle cx="666.3" cy="447.5" r="2.9" fill="none" stroke="#7a7a7a" stroke-width="0.9"/>
<circle cx="658.4" cy="453.1" r="2.9" fill="none" stroke="#7a7a7a" stroke-width="0.9"/>
<line x1="536.9" y1="399.1" x2="536.9" y2="405.5" stroke="#000" stroke-width="1.45"/>
<line x1="531.45" y1="399.1" x2="542.35" y2="399.1" stroke="#000" stroke-width="1.3"/>
<line x1="531.45" y1="405.5" x2="542.35" y2="405.5" stroke="#000" stroke-width="1.3"/>
<line x1="568.2" y1="398.2" x2="568.2" y2="406.5" stroke="#000" stroke-width="1.45"/>
<line x1="562.75" y1="398.2" x2="573.65" y2="398.2" stroke="#000" stroke-width="1.3"/>
<line x1="562.75" y1="406.5" x2="573.65" y2="406.5" stroke="#000" stroke-width="1.3"/>
<line x1="599.6" y1="422.7" x2="599.6" y2="426.9" stroke="#000" stroke-width="1.45"/>
<line x1="594.15" y1="422.7" x2="605.05" y2="422.7" stroke="#000" stroke-width="1.3"/>
<line x1="594.15" y1="426.9" x2="605.05" y2="426.9" stroke="#000" stroke-width="1.3"/>
<line x1="631" y1="418.6" x2="631" y2="424.2" stroke="#000" stroke-width="1.45"/>
<line x1="625.55" y1="418.6" x2="636.45" y2="418.6" stroke="#000" stroke-width="1.3"/>
<line x1="625.55" y1="424.2" x2="636.45" y2="424.2" stroke="#000" stroke-width="1.3"/>
<line x1="662.4" y1="424.8" x2="662.4" y2="431.6" stroke="#000" stroke-width="1.45"/>
<line x1="656.95" y1="424.8" x2="667.85" y2="424.8" stroke="#000" stroke-width="1.3"/>
<line x1="656.95" y1="431.6" x2="667.85" y2="431.6" stroke="#000" stroke-width="1.3"/>
<line x1="516" y1="325.7" x2="516" y2="475.7" stroke="#000" stroke-width="1.6"/>
<line x1="508.6" y1="474.9" x2="684" y2="474.9" stroke="#000" stroke-width="1.6"/>
<line x1="508.6" y1="474.9" x2="516" y2="474.9" stroke="#000" stroke-width="1.6"/>
<text font-size="10.3" font-weight="bold" stroke="#000" stroke-width="0.35" transform="translate(500.52 479.28) scale(1.0700 1)">0</text>
<line x1="508.6" y1="425.43" x2="516" y2="425.43" stroke="#000" stroke-width="1.6"/>
<text font-size="10.3" font-weight="bold" stroke="#000" stroke-width="0.35" transform="translate(494.41 429.82) scale(1.0700 1)">10</text>
<line x1="508.6" y1="375.97" x2="516" y2="375.97" stroke="#000" stroke-width="1.6"/>
<text font-size="10.3" font-weight="bold" stroke="#000" stroke-width="0.35" transform="translate(494.41 380.35) scale(1.0700 1)">20</text>
<line x1="508.6" y1="326.5" x2="516" y2="326.5" stroke="#000" stroke-width="1.6"/>
<text font-size="10.3" font-weight="bold" stroke="#000" stroke-width="0.35" transform="translate(494.41 330.88) scale(1.0700 1)">30</text>
<line x1="536.9" y1="474.9" x2="536.9" y2="482.3" stroke="#000" stroke-width="1.6"/>
<line x1="568.2" y1="474.9" x2="568.2" y2="482.3" stroke="#000" stroke-width="1.6"/>
<line x1="599.6" y1="474.9" x2="599.6" y2="482.3" stroke="#000" stroke-width="1.6"/>
<line x1="631" y1="474.9" x2="631" y2="482.3" stroke="#000" stroke-width="1.6"/>
<line x1="662.4" y1="474.9" x2="662.4" y2="482.3" stroke="#000" stroke-width="1.6"/>
<text font-size="13.3" font-weight="bold" stroke="#000" stroke-width="0.35" transform="translate(504.26 528.64) rotate(-45) scale(1.0000 1)">M-mode</text>
<text font-size="13.3" font-weight="bold" stroke="#000" stroke-width="0.35" transform="translate(536.08 528.12) rotate(-45) scale(1.0000 1)">SAX-BP</text>
<text font-size="13.3" font-weight="bold" stroke="#000" stroke-width="0.35" transform="translate(568.02 527.58) rotate(-45) scale(1.0000 1)">LAX-BP</text>
<text font-size="13.3" font-weight="bold" stroke="#000" stroke-width="0.35" transform="translate(609.11 517.89) rotate(-45) scale(1.0000 1)">PLAX</text>
<text font-size="13.3" font-weight="bold" stroke="#000" stroke-width="0.35" transform="translate(627.98 530.42) rotate(-45) scale(1.0000 1)">A4CLAX</text>
<text font-size="19.64" font-weight="bold" stroke="#000" stroke-width="0.15" transform="translate(483.5 452.17) rotate(-90) scale(0.9774 1)">CO (ml/min)</text>
<path d="M536.6 300.2V291.4H596.8V300.2" fill="none" stroke="#000" stroke-width="1.6"/>
<path d="M553.58 277.45V284.15M550.43 279.1L556.73 282.5M550.43 282.5L556.73 279.1M562.53 277.45V284.15M559.38 279.1L565.68 282.5M559.38 282.5L565.68 279.1M571.48 277.45V284.15M568.33 279.1L574.62 282.5M568.33 282.5L574.62 279.1M580.43 277.45V284.15M577.28 279.1L583.58 282.5M577.28 282.5L583.58 279.1" stroke="#000" stroke-width="2.0" stroke-linecap="round" fill="none"/>
<g fill="#000"><circle cx="553.58" cy="280.8" r="1.5"/><circle cx="562.53" cy="280.8" r="1.5"/><circle cx="571.48" cy="280.8" r="1.5"/><circle cx="580.43" cy="280.8" r="1.5"/></g>
<path d="M602.6 300.2V291.4H662.8V300.2" fill="none" stroke="#000" stroke-width="1.6"/>
<text font-size="13" font-weight="normal" transform="translate(625.98 283.67) scale(0.9500 1)">ns</text>
<path d="M536.6 332.7V323.6H561.6V332.7" fill="none" stroke="#000" stroke-width="1.6"/>
<text font-size="13" font-weight="normal" transform="translate(542.38 315.87) scale(0.9500 1)">ns</text>
<path d="M568.2 332.7V323.6H596.8V332.7" fill="none" stroke="#000" stroke-width="1.6"/>
<path d="M573.85 309.65V316.35M570.7 311.3L577 314.7M570.7 314.7L577 311.3M582.8 309.65V316.35M579.65 311.3L585.95 314.7M579.65 314.7L585.95 311.3M591.75 309.65V316.35M588.6 311.3L594.9 314.7M588.6 314.7L594.9 311.3" stroke="#000" stroke-width="2.0" stroke-linecap="round" fill="none"/>
<g fill="#000"><circle cx="573.85" cy="313" r="1.5"/><circle cx="582.8" cy="313" r="1.5"/><circle cx="591.75" cy="313" r="1.5"/></g>
<path d="M602.6 332.7V323.6H631.3V332.7" fill="none" stroke="#000" stroke-width="1.6"/>
<text font-size="13" font-weight="normal" transform="translate(610.23 315.87) scale(0.9500 1)">ns</text>
<path d="M636.7 332.7V323.6H662.8V332.7" fill="none" stroke="#000" stroke-width="1.6"/>
<path d="M650.05 309.65V316.35M646.9 311.3L653.2 314.7M646.9 314.7L653.2 311.3" stroke="#000" stroke-width="2.0" stroke-linecap="round" fill="none"/>
<g fill="#000"><circle cx="650.05" cy="313" r="1.5"/></g>
</svg>
</body></html>
